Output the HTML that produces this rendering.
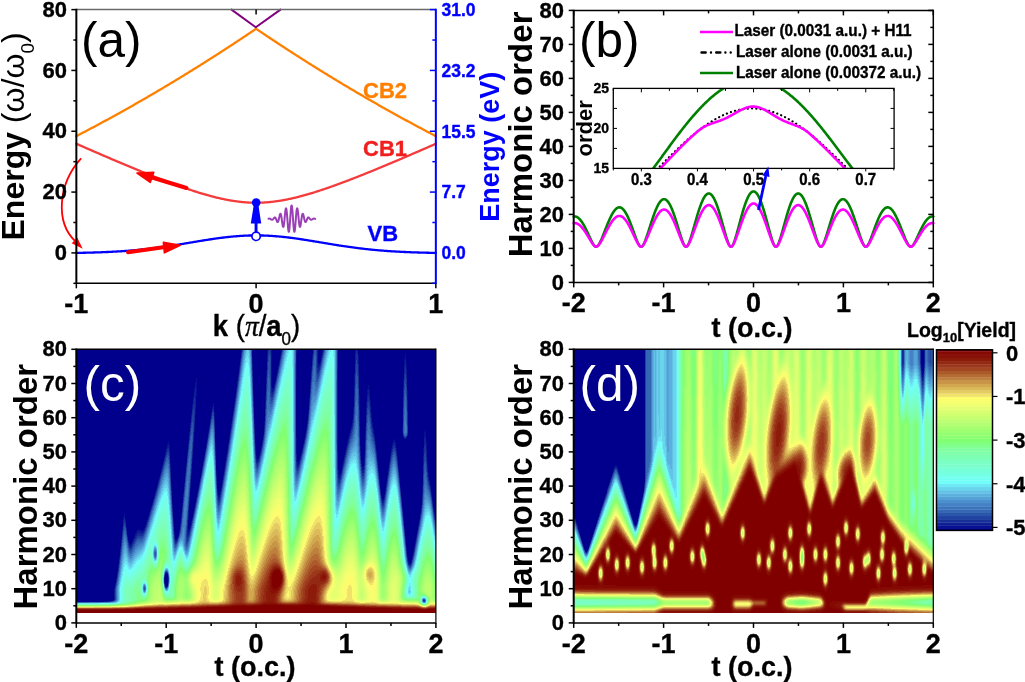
<!DOCTYPE html>
<html><head><meta charset="utf-8"><style>
html,body{margin:0;padding:0;background:#fff;}
#w{position:relative;width:1025px;height:682px;overflow:hidden;background:#fff;font-family:"Liberation Sans", sans-serif;}
canvas{position:absolute;}
svg{position:absolute;left:0;top:0;}
text{font-family:"Liberation Sans", sans-serif;}
</style></head><body><div id="w">
<canvas id="hc" width="360" height="264" data-x0="76" data-y0="349" data-tz="256.1" style="left:76px;top:349px;width:360px;height:264px;background:linear-gradient(to bottom,#00008c 0%,#00008c 35%,#3070c0 50%,#80f0b0 70%,#e8e070 85%,#a04020 94%,#800000 97%,#fff 97.5%)"></canvas>
<canvas id="hd" width="360" height="264" data-x0="574" data-y0="349" data-tz="753.5" style="left:574px;top:349px;width:360px;height:264px;background:linear-gradient(to bottom,#a0f080 0%,#d8e070 35%,#c08040 50%,#800000 60%,#800000 88%,#90f0a0 93%,#800000 96%,#fff 97.5%)"></canvas>
<svg width="1025" height="682" viewBox="0 0 1025 682"><defs></defs>
<path d="M76.35,136.13 L77.25,135.66 L78.15,135.19 L79.05,134.73 L79.95,134.26 L80.84,133.79 L81.74,133.32 L82.64,132.85 L83.54,132.38 L84.44,131.91 L85.34,131.44 L86.24,130.96 L87.14,130.49 L88.03,130.02 L88.93,129.54 L89.83,129.07 L90.73,128.59 L91.63,128.11 L92.53,127.63 L93.43,127.16 L94.33,126.68 L95.22,126.20 L96.12,125.72 L97.02,125.24 L97.92,124.75 L98.82,124.27 L99.72,123.79 L100.62,123.30 L101.52,122.82 L102.41,122.33 L103.31,121.85 L104.21,121.36 L105.11,120.87 L106.01,120.38 L106.91,119.89 L107.81,119.40 L108.71,118.91 L109.60,118.42 L110.50,117.93 L111.40,117.44 L112.30,116.94 L113.20,116.45 L114.10,115.95 L115.00,115.46 L115.90,114.96 L116.79,114.46 L117.69,113.97 L118.59,113.47 L119.49,112.97 L120.39,112.47 L121.29,111.97 L122.19,111.47 L123.09,110.97 L123.98,110.46 L124.88,109.96 L125.78,109.45 L126.68,108.95 L127.58,108.44 L128.48,107.94 L129.38,107.43 L130.28,106.92 L131.17,106.41 L132.07,105.91 L132.97,105.40 L133.87,104.88 L134.77,104.37 L135.67,103.86 L136.57,103.35 L137.47,102.83 L138.36,102.32 L139.26,101.81 L140.16,101.29 L141.06,100.77 L141.96,100.26 L142.86,99.74 L143.76,99.22 L144.66,98.70 L145.55,98.18 L146.45,97.66 L147.35,97.14 L148.25,96.62 L149.15,96.09 L150.05,95.57 L150.95,95.05 L151.85,94.52 L152.74,94.00 L153.64,93.47 L154.54,92.94 L155.44,92.41 L156.34,91.89 L157.24,91.36 L158.14,90.83 L159.04,90.30 L159.93,89.76 L160.83,89.23 L161.73,88.70 L162.63,88.17 L163.53,87.63 L164.43,87.10 L165.33,86.56 L166.23,86.03 L167.12,85.49 L168.02,84.95 L168.92,84.41 L169.82,83.87 L170.72,83.33 L171.62,82.79 L172.52,82.25 L173.42,81.71 L174.31,81.17 L175.21,80.62 L176.11,80.08 L177.01,79.53 L177.91,78.99 L178.81,78.44 L179.71,77.89 L180.61,77.35 L181.50,76.80 L182.40,76.25 L183.30,75.70 L184.20,75.15 L185.10,74.60 L186.00,74.04 L186.90,73.49 L187.80,72.94 L188.69,72.38 L189.59,71.83 L190.49,71.27 L191.39,70.72 L192.29,70.16 L193.19,69.60 L194.09,69.04 L194.99,68.48 L195.88,67.92 L196.78,67.36 L197.68,66.80 L198.58,66.24 L199.48,65.68 L200.38,65.11 L201.28,64.55 L202.18,63.98 L203.07,63.42 L203.97,62.85 L204.87,62.28 L205.77,61.72 L206.67,61.15 L207.57,60.58 L208.47,60.01 L209.37,59.44 L210.26,58.87 L211.16,58.30 L212.06,57.72 L212.96,57.15 L213.86,56.57 L214.76,56.00 L215.66,55.42 L216.56,54.85 L217.45,54.27 L218.35,53.69 L219.25,53.11 L220.15,52.53 L221.05,51.95 L221.95,51.37 L222.85,50.79 L223.75,50.21 L224.64,49.63 L225.54,49.04 L226.44,48.46 L227.34,47.87 L228.24,47.29 L229.14,46.70 L230.04,46.12 L230.94,45.53 L231.83,44.94 L232.73,44.35 L233.63,43.76 L234.53,43.17 L235.43,42.58 L236.33,41.99 L237.23,41.39 L238.13,40.80 L239.02,40.21 L239.92,39.61 L240.82,39.01 L241.72,38.42 L242.62,37.82 L243.52,37.22 L244.42,36.62 L245.32,36.03 L246.21,35.43 L247.11,34.82 L248.01,34.22 L248.91,33.62 L249.81,33.02 L250.71,32.41 L251.61,31.81 L252.51,31.21 L253.40,30.60 L254.30,29.99 L255.20,29.39 L256.10,28.78 L257.00,29.39 L257.90,29.99 L258.80,30.60 L259.70,31.21 L260.59,31.81 L261.49,32.41 L262.39,33.02 L263.29,33.62 L264.19,34.22 L265.09,34.82 L265.99,35.43 L266.89,36.03 L267.78,36.62 L268.68,37.22 L269.58,37.82 L270.48,38.42 L271.38,39.01 L272.28,39.61 L273.18,40.21 L274.08,40.80 L274.97,41.39 L275.87,41.99 L276.77,42.58 L277.67,43.17 L278.57,43.76 L279.47,44.35 L280.37,44.94 L281.27,45.53 L282.16,46.12 L283.06,46.70 L283.96,47.29 L284.86,47.87 L285.76,48.46 L286.66,49.04 L287.56,49.63 L288.46,50.21 L289.35,50.79 L290.25,51.37 L291.15,51.95 L292.05,52.53 L292.95,53.11 L293.85,53.69 L294.75,54.27 L295.65,54.85 L296.54,55.42 L297.44,56.00 L298.34,56.57 L299.24,57.15 L300.14,57.72 L301.04,58.30 L301.94,58.87 L302.84,59.44 L303.73,60.01 L304.63,60.58 L305.53,61.15 L306.43,61.72 L307.33,62.28 L308.23,62.85 L309.13,63.42 L310.03,63.98 L310.92,64.55 L311.82,65.11 L312.72,65.68 L313.62,66.24 L314.52,66.80 L315.42,67.36 L316.32,67.92 L317.22,68.48 L318.11,69.04 L319.01,69.60 L319.91,70.16 L320.81,70.72 L321.71,71.27 L322.61,71.83 L323.51,72.38 L324.41,72.94 L325.30,73.49 L326.20,74.04 L327.10,74.60 L328.00,75.15 L328.90,75.70 L329.80,76.25 L330.70,76.80 L331.60,77.35 L332.49,77.89 L333.39,78.44 L334.29,78.99 L335.19,79.53 L336.09,80.08 L336.99,80.62 L337.89,81.17 L338.79,81.71 L339.68,82.25 L340.58,82.79 L341.48,83.33 L342.38,83.87 L343.28,84.41 L344.18,84.95 L345.08,85.49 L345.98,86.03 L346.87,86.56 L347.77,87.10 L348.67,87.63 L349.57,88.17 L350.47,88.70 L351.37,89.23 L352.27,89.76 L353.17,90.30 L354.06,90.83 L354.96,91.36 L355.86,91.89 L356.76,92.41 L357.66,92.94 L358.56,93.47 L359.46,94.00 L360.36,94.52 L361.25,95.05 L362.15,95.57 L363.05,96.09 L363.95,96.62 L364.85,97.14 L365.75,97.66 L366.65,98.18 L367.55,98.70 L368.44,99.22 L369.34,99.74 L370.24,100.26 L371.14,100.77 L372.04,101.29 L372.94,101.81 L373.84,102.32 L374.74,102.83 L375.63,103.35 L376.53,103.86 L377.43,104.37 L378.33,104.88 L379.23,105.40 L380.13,105.91 L381.03,106.41 L381.93,106.92 L382.82,107.43 L383.72,107.94 L384.62,108.44 L385.52,108.95 L386.42,109.45 L387.32,109.96 L388.22,110.46 L389.12,110.97 L390.01,111.47 L390.91,111.97 L391.81,112.47 L392.71,112.97 L393.61,113.47 L394.51,113.97 L395.41,114.46 L396.31,114.96 L397.20,115.46 L398.10,115.95 L399.00,116.45 L399.90,116.94 L400.80,117.44 L401.70,117.93 L402.60,118.42 L403.50,118.91 L404.39,119.40 L405.29,119.89 L406.19,120.38 L407.09,120.87 L407.99,121.36 L408.89,121.85 L409.79,122.33 L410.69,122.82 L411.58,123.30 L412.48,123.79 L413.38,124.27 L414.28,124.75 L415.18,125.24 L416.08,125.72 L416.98,126.20 L417.88,126.68 L418.77,127.16 L419.67,127.63 L420.57,128.11 L421.47,128.59 L422.37,129.07 L423.27,129.54 L424.17,130.02 L425.07,130.49 L425.96,130.96 L426.86,131.44 L427.76,131.91 L428.66,132.38 L429.56,132.85 L430.46,133.32 L431.36,133.79 L432.25,134.26 L433.15,134.73 L434.05,135.19 L434.95,135.66 L435.85,136.13" stroke="#FF8000" stroke-width="2.3" fill="none" stroke-linejoin="round" stroke-linecap="round" />
<path d="M76.35,143.75 L77.25,144.14 L78.15,144.54 L79.05,144.93 L79.95,145.33 L80.84,145.72 L81.74,146.11 L82.64,146.51 L83.54,146.90 L84.44,147.29 L85.34,147.69 L86.24,148.08 L87.14,148.47 L88.03,148.86 L88.93,149.26 L89.83,149.65 L90.73,150.04 L91.63,150.43 L92.53,150.82 L93.43,151.21 L94.33,151.60 L95.22,151.99 L96.12,152.38 L97.02,152.77 L97.92,153.16 L98.82,153.55 L99.72,153.93 L100.62,154.32 L101.52,154.71 L102.41,155.10 L103.31,155.48 L104.21,155.87 L105.11,156.26 L106.01,156.64 L106.91,157.03 L107.81,157.41 L108.71,157.80 L109.60,158.18 L110.50,158.57 L111.40,158.95 L112.30,159.33 L113.20,159.72 L114.10,160.10 L115.00,160.48 L115.90,160.86 L116.79,161.24 L117.69,161.62 L118.59,162.00 L119.49,162.38 L120.39,162.76 L121.29,163.14 L122.19,163.52 L123.09,163.90 L123.98,164.27 L124.88,164.65 L125.78,165.03 L126.68,165.40 L127.58,165.78 L128.48,166.15 L129.38,166.53 L130.28,166.90 L131.17,167.27 L132.07,167.65 L132.97,168.02 L133.87,168.39 L134.77,168.76 L135.67,169.13 L136.57,169.50 L137.47,169.87 L138.36,170.24 L139.26,170.60 L140.16,170.97 L141.06,171.34 L141.96,171.70 L142.86,172.07 L143.76,172.43 L144.66,172.80 L145.55,173.16 L146.45,173.52 L147.35,173.88 L148.25,174.24 L149.15,174.60 L150.05,174.96 L150.95,175.32 L151.85,175.67 L152.74,176.03 L153.64,176.39 L154.54,176.74 L155.44,177.09 L156.34,177.45 L157.24,177.80 L158.14,178.15 L159.04,178.50 L159.93,178.85 L160.83,179.19 L161.73,179.54 L162.63,179.89 L163.53,180.23 L164.43,180.57 L165.33,180.92 L166.23,181.26 L167.12,181.60 L168.02,181.94 L168.92,182.27 L169.82,182.61 L170.72,182.95 L171.62,183.28 L172.52,183.61 L173.42,183.94 L174.31,184.27 L175.21,184.60 L176.11,184.93 L177.01,185.25 L177.91,185.58 L178.81,185.90 L179.71,186.22 L180.61,186.54 L181.50,186.86 L182.40,187.17 L183.30,187.49 L184.20,187.80 L185.10,188.11 L186.00,188.42 L186.90,188.73 L187.80,189.03 L188.69,189.33 L189.59,189.64 L190.49,189.94 L191.39,190.23 L192.29,190.53 L193.19,190.82 L194.09,191.11 L194.99,191.40 L195.88,191.69 L196.78,191.97 L197.68,192.26 L198.58,192.53 L199.48,192.81 L200.38,193.09 L201.28,193.36 L202.18,193.63 L203.07,193.90 L203.97,194.16 L204.87,194.42 L205.77,194.68 L206.67,194.94 L207.57,195.19 L208.47,195.44 L209.37,195.69 L210.26,195.93 L211.16,196.17 L212.06,196.41 L212.96,196.64 L213.86,196.87 L214.76,197.10 L215.66,197.32 L216.56,197.54 L217.45,197.76 L218.35,197.97 L219.25,198.18 L220.15,198.39 L221.05,198.59 L221.95,198.78 L222.85,198.98 L223.75,199.17 L224.64,199.35 L225.54,199.53 L226.44,199.71 L227.34,199.88 L228.24,200.05 L229.14,200.21 L230.04,200.37 L230.94,200.53 L231.83,200.68 L232.73,200.82 L233.63,200.96 L234.53,201.09 L235.43,201.22 L236.33,201.35 L237.23,201.47 L238.13,201.58 L239.02,201.69 L239.92,201.80 L240.82,201.90 L241.72,201.99 L242.62,202.08 L243.52,202.16 L244.42,202.24 L245.32,202.31 L246.21,202.37 L247.11,202.43 L248.01,202.49 L248.91,202.54 L249.81,202.58 L250.71,202.62 L251.61,202.65 L252.51,202.68 L253.40,202.70 L254.30,202.71 L255.20,202.72 L256.10,202.72 L257.00,202.72 L257.90,202.71 L258.80,202.70 L259.70,202.68 L260.59,202.65 L261.49,202.62 L262.39,202.58 L263.29,202.54 L264.19,202.49 L265.09,202.43 L265.99,202.37 L266.89,202.31 L267.78,202.24 L268.68,202.16 L269.58,202.08 L270.48,201.99 L271.38,201.90 L272.28,201.80 L273.18,201.69 L274.08,201.58 L274.97,201.47 L275.87,201.35 L276.77,201.22 L277.67,201.09 L278.57,200.96 L279.47,200.82 L280.37,200.68 L281.27,200.53 L282.16,200.37 L283.06,200.21 L283.96,200.05 L284.86,199.88 L285.76,199.71 L286.66,199.53 L287.56,199.35 L288.46,199.17 L289.35,198.98 L290.25,198.78 L291.15,198.59 L292.05,198.39 L292.95,198.18 L293.85,197.97 L294.75,197.76 L295.65,197.54 L296.54,197.32 L297.44,197.10 L298.34,196.87 L299.24,196.64 L300.14,196.41 L301.04,196.17 L301.94,195.93 L302.84,195.69 L303.73,195.44 L304.63,195.19 L305.53,194.94 L306.43,194.68 L307.33,194.42 L308.23,194.16 L309.13,193.90 L310.03,193.63 L310.92,193.36 L311.82,193.09 L312.72,192.81 L313.62,192.53 L314.52,192.26 L315.42,191.97 L316.32,191.69 L317.22,191.40 L318.11,191.11 L319.01,190.82 L319.91,190.53 L320.81,190.23 L321.71,189.94 L322.61,189.64 L323.51,189.33 L324.41,189.03 L325.30,188.73 L326.20,188.42 L327.10,188.11 L328.00,187.80 L328.90,187.49 L329.80,187.17 L330.70,186.86 L331.60,186.54 L332.49,186.22 L333.39,185.90 L334.29,185.58 L335.19,185.25 L336.09,184.93 L336.99,184.60 L337.89,184.27 L338.79,183.94 L339.68,183.61 L340.58,183.28 L341.48,182.95 L342.38,182.61 L343.28,182.27 L344.18,181.94 L345.08,181.60 L345.98,181.26 L346.87,180.92 L347.77,180.57 L348.67,180.23 L349.57,179.89 L350.47,179.54 L351.37,179.19 L352.27,178.85 L353.17,178.50 L354.06,178.15 L354.96,177.80 L355.86,177.45 L356.76,177.09 L357.66,176.74 L358.56,176.39 L359.46,176.03 L360.36,175.67 L361.25,175.32 L362.15,174.96 L363.05,174.60 L363.95,174.24 L364.85,173.88 L365.75,173.52 L366.65,173.16 L367.55,172.80 L368.44,172.43 L369.34,172.07 L370.24,171.70 L371.14,171.34 L372.04,170.97 L372.94,170.60 L373.84,170.24 L374.74,169.87 L375.63,169.50 L376.53,169.13 L377.43,168.76 L378.33,168.39 L379.23,168.02 L380.13,167.65 L381.03,167.27 L381.93,166.90 L382.82,166.53 L383.72,166.15 L384.62,165.78 L385.52,165.40 L386.42,165.03 L387.32,164.65 L388.22,164.27 L389.12,163.90 L390.01,163.52 L390.91,163.14 L391.81,162.76 L392.71,162.38 L393.61,162.00 L394.51,161.62 L395.41,161.24 L396.31,160.86 L397.20,160.48 L398.10,160.10 L399.00,159.72 L399.90,159.33 L400.80,158.95 L401.70,158.57 L402.60,158.18 L403.50,157.80 L404.39,157.41 L405.29,157.03 L406.19,156.64 L407.09,156.26 L407.99,155.87 L408.89,155.48 L409.79,155.10 L410.69,154.71 L411.58,154.32 L412.48,153.93 L413.38,153.55 L414.28,153.16 L415.18,152.77 L416.08,152.38 L416.98,151.99 L417.88,151.60 L418.77,151.21 L419.67,150.82 L420.57,150.43 L421.47,150.04 L422.37,149.65 L423.27,149.26 L424.17,148.86 L425.07,148.47 L425.96,148.08 L426.86,147.69 L427.76,147.29 L428.66,146.90 L429.56,146.51 L430.46,146.11 L431.36,145.72 L432.25,145.33 L433.15,144.93 L434.05,144.54 L434.95,144.14 L435.85,143.75" stroke="#F53B3B" stroke-width="2.3" fill="none" stroke-linejoin="round" stroke-linecap="round" />
<path d="M76.35,252.90 L77.25,252.89 L78.15,252.87 L79.05,252.85 L79.95,252.84 L80.84,252.82 L81.74,252.80 L82.64,252.79 L83.54,252.77 L84.44,252.75 L85.34,252.73 L86.24,252.71 L87.14,252.69 L88.03,252.66 L88.93,252.64 L89.83,252.62 L90.73,252.60 L91.63,252.57 L92.53,252.55 L93.43,252.52 L94.33,252.49 L95.22,252.46 L96.12,252.44 L97.02,252.41 L97.92,252.38 L98.82,252.35 L99.72,252.31 L100.62,252.28 L101.52,252.25 L102.41,252.21 L103.31,252.18 L104.21,252.14 L105.11,252.10 L106.01,252.06 L106.91,252.02 L107.81,251.98 L108.71,251.94 L109.60,251.90 L110.50,251.86 L111.40,251.81 L112.30,251.76 L113.20,251.72 L114.10,251.67 L115.00,251.62 L115.90,251.57 L116.79,251.52 L117.69,251.46 L118.59,251.41 L119.49,251.35 L120.39,251.30 L121.29,251.24 L122.19,251.18 L123.09,251.12 L123.98,251.05 L124.88,250.99 L125.78,250.93 L126.68,250.86 L127.58,250.79 L128.48,250.72 L129.38,250.65 L130.28,250.58 L131.17,250.51 L132.07,250.43 L132.97,250.35 L133.87,250.28 L134.77,250.20 L135.67,250.12 L136.57,250.03 L137.47,249.95 L138.36,249.86 L139.26,249.78 L140.16,249.69 L141.06,249.60 L141.96,249.51 L142.86,249.41 L143.76,249.32 L144.66,249.22 L145.55,249.13 L146.45,249.03 L147.35,248.93 L148.25,248.82 L149.15,248.72 L150.05,248.61 L150.95,248.51 L151.85,248.40 L152.74,248.29 L153.64,248.18 L154.54,248.06 L155.44,247.95 L156.34,247.83 L157.24,247.72 L158.14,247.60 L159.04,247.48 L159.93,247.36 L160.83,247.23 L161.73,247.11 L162.63,246.98 L163.53,246.86 L164.43,246.73 L165.33,246.60 L166.23,246.47 L167.12,246.34 L168.02,246.20 L168.92,246.07 L169.82,245.93 L170.72,245.80 L171.62,245.66 L172.52,245.52 L173.42,245.38 L174.31,245.24 L175.21,245.10 L176.11,244.96 L177.01,244.81 L177.91,244.67 L178.81,244.52 L179.71,244.38 L180.61,244.23 L181.50,244.09 L182.40,243.94 L183.30,243.79 L184.20,243.64 L185.10,243.49 L186.00,243.34 L186.90,243.19 L187.80,243.04 L188.69,242.89 L189.59,242.74 L190.49,242.59 L191.39,242.44 L192.29,242.29 L193.19,242.14 L194.09,241.99 L194.99,241.84 L195.88,241.69 L196.78,241.54 L197.68,241.39 L198.58,241.24 L199.48,241.10 L200.38,240.95 L201.28,240.80 L202.18,240.65 L203.07,240.51 L203.97,240.36 L204.87,240.22 L205.77,240.08 L206.67,239.93 L207.57,239.79 L208.47,239.65 L209.37,239.51 L210.26,239.38 L211.16,239.24 L212.06,239.11 L212.96,238.97 L213.86,238.84 L214.76,238.71 L215.66,238.58 L216.56,238.46 L217.45,238.33 L218.35,238.21 L219.25,238.09 L220.15,237.97 L221.05,237.85 L221.95,237.74 L222.85,237.62 L223.75,237.51 L224.64,237.40 L225.54,237.30 L226.44,237.20 L227.34,237.09 L228.24,237.00 L229.14,236.90 L230.04,236.81 L230.94,236.72 L231.83,236.63 L232.73,236.54 L233.63,236.46 L234.53,236.38 L235.43,236.30 L236.33,236.23 L237.23,236.16 L238.13,236.09 L239.02,236.03 L239.92,235.96 L240.82,235.91 L241.72,235.85 L242.62,235.80 L243.52,235.75 L244.42,235.70 L245.32,235.66 L246.21,235.62 L247.11,235.59 L248.01,235.55 L248.91,235.52 L249.81,235.50 L250.71,235.48 L251.61,235.46 L252.51,235.44 L253.40,235.43 L254.30,235.42 L255.20,235.42 L256.10,235.41 L257.00,235.42 L257.90,235.42 L258.80,235.43 L259.70,235.44 L260.59,235.46 L261.49,235.48 L262.39,235.50 L263.29,235.52 L264.19,235.55 L265.09,235.59 L265.99,235.62 L266.89,235.66 L267.78,235.70 L268.68,235.75 L269.58,235.80 L270.48,235.85 L271.38,235.91 L272.28,235.96 L273.18,236.03 L274.08,236.09 L274.97,236.16 L275.87,236.23 L276.77,236.30 L277.67,236.38 L278.57,236.46 L279.47,236.54 L280.37,236.63 L281.27,236.72 L282.16,236.81 L283.06,236.90 L283.96,237.00 L284.86,237.09 L285.76,237.20 L286.66,237.30 L287.56,237.40 L288.46,237.51 L289.35,237.62 L290.25,237.74 L291.15,237.85 L292.05,237.97 L292.95,238.09 L293.85,238.21 L294.75,238.33 L295.65,238.46 L296.54,238.58 L297.44,238.71 L298.34,238.84 L299.24,238.97 L300.14,239.11 L301.04,239.24 L301.94,239.38 L302.84,239.51 L303.73,239.65 L304.63,239.79 L305.53,239.93 L306.43,240.08 L307.33,240.22 L308.23,240.36 L309.13,240.51 L310.03,240.65 L310.92,240.80 L311.82,240.95 L312.72,241.10 L313.62,241.24 L314.52,241.39 L315.42,241.54 L316.32,241.69 L317.22,241.84 L318.11,241.99 L319.01,242.14 L319.91,242.29 L320.81,242.44 L321.71,242.59 L322.61,242.74 L323.51,242.89 L324.41,243.04 L325.30,243.19 L326.20,243.34 L327.10,243.49 L328.00,243.64 L328.90,243.79 L329.80,243.94 L330.70,244.09 L331.60,244.23 L332.49,244.38 L333.39,244.52 L334.29,244.67 L335.19,244.81 L336.09,244.96 L336.99,245.10 L337.89,245.24 L338.79,245.38 L339.68,245.52 L340.58,245.66 L341.48,245.80 L342.38,245.93 L343.28,246.07 L344.18,246.20 L345.08,246.34 L345.98,246.47 L346.87,246.60 L347.77,246.73 L348.67,246.86 L349.57,246.98 L350.47,247.11 L351.37,247.23 L352.27,247.36 L353.17,247.48 L354.06,247.60 L354.96,247.72 L355.86,247.83 L356.76,247.95 L357.66,248.06 L358.56,248.18 L359.46,248.29 L360.36,248.40 L361.25,248.51 L362.15,248.61 L363.05,248.72 L363.95,248.82 L364.85,248.93 L365.75,249.03 L366.65,249.13 L367.55,249.22 L368.44,249.32 L369.34,249.41 L370.24,249.51 L371.14,249.60 L372.04,249.69 L372.94,249.78 L373.84,249.86 L374.74,249.95 L375.63,250.03 L376.53,250.12 L377.43,250.20 L378.33,250.28 L379.23,250.35 L380.13,250.43 L381.03,250.51 L381.93,250.58 L382.82,250.65 L383.72,250.72 L384.62,250.79 L385.52,250.86 L386.42,250.93 L387.32,250.99 L388.22,251.05 L389.12,251.12 L390.01,251.18 L390.91,251.24 L391.81,251.30 L392.71,251.35 L393.61,251.41 L394.51,251.46 L395.41,251.52 L396.31,251.57 L397.20,251.62 L398.10,251.67 L399.00,251.72 L399.90,251.76 L400.80,251.81 L401.70,251.86 L402.60,251.90 L403.50,251.94 L404.39,251.98 L405.29,252.02 L406.19,252.06 L407.09,252.10 L407.99,252.14 L408.89,252.18 L409.79,252.21 L410.69,252.25 L411.58,252.28 L412.48,252.31 L413.38,252.35 L414.28,252.38 L415.18,252.41 L416.08,252.44 L416.98,252.46 L417.88,252.49 L418.77,252.52 L419.67,252.55 L420.57,252.57 L421.47,252.60 L422.37,252.62 L423.27,252.64 L424.17,252.66 L425.07,252.69 L425.96,252.71 L426.86,252.73 L427.76,252.75 L428.66,252.77 L429.56,252.79 L430.46,252.80 L431.36,252.82 L432.25,252.84 L433.15,252.85 L434.05,252.87 L434.95,252.89 L435.85,252.90" stroke="#0000FF" stroke-width="2.3" fill="none" stroke-linejoin="round" stroke-linecap="round" />
<path d="M231.50,9.62 L255.80,27.30 L280.50,9.62" stroke="#800080" stroke-width="2" fill="none" stroke-linejoin="round" stroke-linecap="round" />
<line x1="186.50" y1="188.00" x2="150.50" y2="177.00" stroke="#FF0000" stroke-width="4" stroke-linecap="round"/>
<polygon points="137,173 150.3,182.3 153.8,172.2" fill="#FF0000" stroke="#FF0000" stroke-width="1.6" stroke-linejoin="round"/>
<line x1="128.00" y1="252.20" x2="165.00" y2="247.00" stroke="#FF0000" stroke-width="4" stroke-linecap="round"/>
<polygon points="180.2,245.3 164.4,252.8 163.4,242.3" fill="#FF0000" stroke="#FF0000" stroke-width="1.6" stroke-linejoin="round"/>
<path d="M81.1,158.4 C58,184 55,222 75.5,241.5" stroke="#FF0000" stroke-width="1.8" fill="none"/>
<polygon points="82.7,248.7 71.67,243.33 77.33,237.67" fill="#FF0000"/>
<rect x="254.6" y="222" width="2.9" height="11" fill="#0000FF"/>
<polygon points="253.6,206 258.6,206 261.2,223.5 250.8,223.5" fill="#0000FF"/>
<circle cx="256.2" cy="202.6" r="4.3" fill="#0000FF"/>
<circle cx="256.1" cy="236.3" r="4.2" fill="#fff" stroke="#0000FF" stroke-width="1.7"/>
<path d="M268.50,218.70 L268.69,218.64 L268.89,218.61 L269.08,218.59 L269.28,218.59 L269.47,218.61 L269.67,218.65 L269.86,218.72 L270.06,218.80 L270.25,218.90 L270.45,219.02 L270.64,219.14 L270.83,219.27 L271.03,219.39 L271.22,219.50 L271.42,219.59 L271.61,219.66 L271.81,219.70 L272.00,219.73 L272.20,219.72 L272.39,219.67 L272.59,219.59 L272.78,219.45 L272.98,219.28 L273.17,219.08 L273.36,218.85 L273.56,218.59 L273.75,218.34 L273.95,218.08 L274.14,217.85 L274.34,217.66 L274.53,217.51 L274.73,217.43 L274.92,217.42 L275.12,217.49 L275.31,217.64 L275.50,217.89 L275.70,218.21 L275.89,218.61 L276.09,219.06 L276.28,219.56 L276.48,220.08 L276.67,220.58 L276.87,221.06 L277.06,221.47 L277.26,221.79 L277.45,221.99 L277.65,222.06 L277.84,221.99 L278.03,221.75 L278.23,221.35 L278.42,220.80 L278.62,220.12 L278.81,219.33 L279.01,218.45 L279.20,217.54 L279.40,216.63 L279.59,215.78 L279.79,215.02 L279.98,214.41 L280.18,213.98 L280.37,213.78 L280.56,213.82 L280.76,214.12 L280.95,214.69 L281.15,215.50 L281.34,216.55 L281.54,217.77 L281.73,219.14 L281.93,220.58 L282.12,222.02 L282.32,223.40 L282.51,224.64 L282.70,225.67 L282.90,226.43 L283.09,226.86 L283.29,226.93 L283.48,226.62 L283.68,225.91 L283.87,224.84 L284.07,223.43 L284.26,221.74 L284.46,219.84 L284.65,217.82 L284.84,215.77 L285.04,213.80 L285.23,212.00 L285.43,210.47 L285.62,209.30 L285.82,208.55 L286.01,208.29 L286.21,208.53 L286.40,209.28 L286.60,210.53 L286.79,212.22 L286.99,214.29 L287.18,216.64 L287.37,219.16 L287.57,221.74 L287.76,224.25 L287.96,226.57 L288.15,228.57 L288.35,230.16 L288.54,231.25 L288.74,231.77 L288.93,231.69 L289.13,231.01 L289.32,229.74 L289.51,227.95 L289.71,225.71 L289.90,223.12 L290.10,220.32 L290.29,217.42 L290.49,214.58 L290.68,211.93 L290.88,209.60 L291.07,207.70 L291.27,206.34 L291.46,205.56 L291.66,205.43 L291.85,205.93 L292.04,207.05 L292.24,208.73 L292.43,210.88 L292.63,213.41 L292.82,216.19 L293.02,219.07 L293.21,221.94 L293.41,224.63 L293.60,227.03 L293.80,229.03 L293.99,230.53 L294.19,231.47 L294.38,231.81 L294.57,231.55 L294.77,230.70 L294.96,229.31 L295.16,227.48 L295.35,225.28 L295.55,222.84 L295.74,220.27 L295.94,217.71 L296.13,215.27 L296.33,213.07 L296.52,211.21 L296.71,209.76 L296.91,208.79 L297.10,208.33 L297.30,208.38 L297.49,208.92 L297.69,209.92 L297.88,211.30 L298.08,212.99 L298.27,214.91 L298.47,216.93 L298.66,218.98 L298.86,220.94 L299.05,222.73 L299.24,224.27 L299.44,225.49 L299.63,226.36 L299.83,226.85 L300.02,226.94 L300.22,226.66 L300.41,226.04 L300.61,225.12 L300.80,223.96 L301.00,222.63 L301.19,221.20 L301.38,219.75 L301.58,218.35 L301.77,217.05 L301.97,215.93 L302.16,215.01 L302.36,214.33 L302.55,213.91 L302.75,213.76 L302.94,213.86 L303.14,214.20 L303.33,214.74 L303.52,215.44 L303.72,216.26 L303.91,217.15 L304.11,218.06 L304.30,218.96 L304.50,219.79 L304.69,220.53 L304.89,221.13 L305.08,221.60 L305.28,221.90 L305.47,222.05 L305.67,222.04 L305.86,221.89 L306.05,221.62 L306.25,221.24 L306.44,220.79 L306.64,220.30 L306.83,219.78 L307.03,219.27 L307.22,218.80 L307.42,218.37 L307.61,218.02 L307.81,217.74 L308.00,217.54 L308.19,217.44 L308.39,217.41 L308.58,217.47 L308.78,217.59 L308.97,217.76 L309.17,217.98 L309.36,218.23 L309.56,218.48 L309.75,218.74 L309.95,218.98 L310.14,219.20 L310.34,219.39 L310.53,219.53 L310.72,219.64 L310.92,219.71 L311.11,219.73 L311.31,219.72 L311.50,219.68 L311.70,219.62 L311.89,219.54 L312.09,219.44 L312.28,219.32 L312.48,219.20 L312.67,219.07 L312.87,218.95 L313.06,218.84 L313.25,218.75 L313.45,218.68 L313.64,218.62 L313.84,218.59 L314.03,218.59 L314.23,218.60 L314.42,218.63 L314.62,218.67 L314.81,218.73 L315.01,218.79 L315.20,218.86" stroke="#9A3FB5" stroke-width="2" fill="none" stroke-linejoin="round" stroke-linecap="round" />
<line x1="76.35" y1="9.62" x2="435.85" y2="9.62" stroke="#6a6a6a" stroke-width="1.5" />
<line x1="76.35" y1="8.87" x2="76.35" y2="284.06" stroke="#000" stroke-width="2" />
<line x1="76.35" y1="283.31" x2="435.85" y2="283.31" stroke="#000" stroke-width="1.5" />
<line x1="435.85" y1="8.87" x2="435.85" y2="284.06" stroke="#0000FF" stroke-width="2" />
<line x1="73.35" y1="283.31" x2="76.35" y2="283.31" stroke="#000" stroke-width="1.5" />
<line x1="435.85" y1="283.31" x2="432.35" y2="283.31" stroke="#0000FF" stroke-width="1.5" />
<line x1="71.35" y1="252.90" x2="76.35" y2="252.90" stroke="#000" stroke-width="1.5" />
<line x1="435.85" y1="252.90" x2="429.85" y2="252.90" stroke="#0000FF" stroke-width="1.5" />
<line x1="73.35" y1="222.49" x2="76.35" y2="222.49" stroke="#000" stroke-width="1.5" />
<line x1="435.85" y1="222.49" x2="432.35" y2="222.49" stroke="#0000FF" stroke-width="1.5" />
<line x1="71.35" y1="192.08" x2="76.35" y2="192.08" stroke="#000" stroke-width="1.5" />
<line x1="435.85" y1="192.08" x2="429.85" y2="192.08" stroke="#0000FF" stroke-width="1.5" />
<line x1="73.35" y1="161.67" x2="76.35" y2="161.67" stroke="#000" stroke-width="1.5" />
<line x1="435.85" y1="161.67" x2="432.35" y2="161.67" stroke="#0000FF" stroke-width="1.5" />
<line x1="71.35" y1="131.26" x2="76.35" y2="131.26" stroke="#000" stroke-width="1.5" />
<line x1="435.85" y1="131.26" x2="429.85" y2="131.26" stroke="#0000FF" stroke-width="1.5" />
<line x1="73.35" y1="100.85" x2="76.35" y2="100.85" stroke="#000" stroke-width="1.5" />
<line x1="435.85" y1="100.85" x2="432.35" y2="100.85" stroke="#0000FF" stroke-width="1.5" />
<line x1="71.35" y1="70.44" x2="76.35" y2="70.44" stroke="#000" stroke-width="1.5" />
<line x1="435.85" y1="70.44" x2="429.85" y2="70.44" stroke="#0000FF" stroke-width="1.5" />
<line x1="73.35" y1="40.03" x2="76.35" y2="40.03" stroke="#000" stroke-width="1.5" />
<line x1="435.85" y1="40.03" x2="432.35" y2="40.03" stroke="#0000FF" stroke-width="1.5" />
<line x1="71.35" y1="9.62" x2="76.35" y2="9.62" stroke="#000" stroke-width="1.5" />
<line x1="435.85" y1="9.62" x2="429.85" y2="9.62" stroke="#0000FF" stroke-width="1.5" />
<text x="0" y="0" transform="translate(67.00,260.08) scale(1,1.045)" font-size="22" fill="#000" stroke="#000" stroke-width="0.35" text-anchor="end" font-weight="bold" >0</text>
<text x="0" y="0" transform="translate(67.00,199.26) scale(1,1.045)" font-size="22" fill="#000" stroke="#000" stroke-width="0.35" text-anchor="end" font-weight="bold" >20</text>
<text x="0" y="0" transform="translate(67.00,138.44) scale(1,1.045)" font-size="22" fill="#000" stroke="#000" stroke-width="0.35" text-anchor="end" font-weight="bold" >40</text>
<text x="0" y="0" transform="translate(67.00,77.62) scale(1,1.045)" font-size="22" fill="#000" stroke="#000" stroke-width="0.35" text-anchor="end" font-weight="bold" >60</text>
<text x="0" y="0" transform="translate(67.00,16.80) scale(1,1.045)" font-size="22" fill="#000" stroke="#000" stroke-width="0.35" text-anchor="end" font-weight="bold" >80</text>
<text x="0" y="0" transform="translate(441.50,259.17) scale(1,1.045)" font-size="17.5" fill="#0000FF" stroke="#0000FF" stroke-width="0.35" text-anchor="start" font-weight="bold" >0.0</text>
<text x="0" y="0" transform="translate(441.50,198.34) scale(1,1.045)" font-size="17.5" fill="#0000FF" stroke="#0000FF" stroke-width="0.35" text-anchor="start" font-weight="bold" >7.7</text>
<text x="0" y="0" transform="translate(441.50,137.52) scale(1,1.045)" font-size="17.5" fill="#0000FF" stroke="#0000FF" stroke-width="0.35" text-anchor="start" font-weight="bold" >15.5</text>
<text x="0" y="0" transform="translate(441.50,76.70) scale(1,1.045)" font-size="17.5" fill="#0000FF" stroke="#0000FF" stroke-width="0.35" text-anchor="start" font-weight="bold" >23.2</text>
<text x="0" y="0" transform="translate(441.50,15.89) scale(1,1.045)" font-size="17.5" fill="#0000FF" stroke="#0000FF" stroke-width="0.35" text-anchor="start" font-weight="bold" >31.0</text>
<line x1="76.35" y1="283.31" x2="76.35" y2="288.31" stroke="#000" stroke-width="1.5" />
<text x="0" y="0" transform="translate(76.35,313.31) scale(1,1.045)" font-size="27" fill="#000" stroke="#000" stroke-width="0.35" text-anchor="middle" font-weight="bold" >-1</text>
<line x1="256.10" y1="283.31" x2="256.10" y2="288.31" stroke="#000" stroke-width="1.5" />
<text x="0" y="0" transform="translate(256.10,313.31) scale(1,1.045)" font-size="27" fill="#000" stroke="#000" stroke-width="0.35" text-anchor="middle" font-weight="bold" >0</text>
<line x1="435.85" y1="283.31" x2="435.85" y2="288.31" stroke="#000" stroke-width="1.5" />
<text x="0" y="0" transform="translate(435.85,313.31) scale(1,1.045)" font-size="27" fill="#000" stroke="#000" stroke-width="0.35" text-anchor="middle" font-weight="bold" >1</text>
<line x1="256.10" y1="9.62" x2="256.10" y2="14.62" stroke="#000" stroke-width="1.5" />
<text x="0" y="0" transform="translate(256.50,336.30) scale(1,1.045)" font-size="27.5" fill="#000" stroke="#000" stroke-width="0.35" text-anchor="middle" font-weight="bold" >k <tspan font-weight="normal">(</tspan><tspan font-weight="normal" font-family="Liberation Serif" font-style="italic">&#960;</tspan><tspan font-weight="normal">/</tspan>a<tspan font-size="17" font-weight="normal" dy="8">0</tspan><tspan font-weight="normal" dy="-8">)</tspan></text>
<text x="0.00" y="0.00" font-size="32" fill="#000" text-anchor="start" font-weight="bold" transform="translate(24.4,240.5) rotate(-90)">Energy <tspan font-weight="normal">(</tspan><tspan font-weight="normal">&#969;</tspan><tspan font-weight="normal">/</tspan><tspan font-weight="normal">&#969;</tspan><tspan font-size="19" font-weight="normal" dy="10">0</tspan><tspan font-weight="normal" dy="-10">)</tspan></text>
<text x="0.00" y="0.00" font-size="27" fill="#0000FF" text-anchor="middle" font-weight="bold" transform="translate(499,146.8) rotate(-90)">Energy (eV)</text>
<text x="81.00" y="57.00" font-size="49.5" fill="#000" text-anchor="start" font-weight="normal" >(a)</text>
<text x="0" y="0" transform="translate(363.00,97.50) scale(1,1.045)" font-size="22" fill="#FF8000" stroke="#FF8000" stroke-width="0.35" text-anchor="start" font-weight="bold" >CB2</text>
<text x="0" y="0" transform="translate(363.00,156.00) scale(1,1.045)" font-size="22" fill="#F01E1E" stroke="#F01E1E" stroke-width="0.35" text-anchor="start" font-weight="bold" >CB1</text>
<text x="0" y="0" transform="translate(367.50,241.00) scale(1,1.045)" font-size="22" fill="#0000FF" stroke="#0000FF" stroke-width="0.35" text-anchor="start" font-weight="bold" >VB</text>
<path d="M573.70,216.56 L573.92,216.52 L574.15,216.49 L574.37,216.47 L574.60,216.46 L574.82,216.47 L575.05,216.48 L575.27,216.51 L575.50,216.54 L575.72,216.59 L575.95,216.64 L576.17,216.71 L576.40,216.79 L576.62,216.88 L576.85,216.98 L577.07,217.09 L577.30,217.22 L577.52,217.35 L577.75,217.49 L577.97,217.65 L578.19,217.81 L578.42,217.99 L578.64,218.17 L578.87,218.37 L579.09,218.58 L579.32,218.79 L579.54,219.02 L579.77,219.26 L579.99,219.50 L580.22,219.76 L580.44,220.03 L580.67,220.31 L580.89,220.59 L581.12,220.89 L581.34,221.19 L581.57,221.50 L581.79,221.83 L582.02,222.16 L582.24,222.50 L582.47,222.85 L582.69,223.20 L582.91,223.57 L583.14,223.94 L583.36,224.32 L583.59,224.71 L583.81,225.10 L584.04,225.51 L584.26,225.92 L584.49,226.33 L584.71,226.75 L584.94,227.18 L585.16,227.62 L585.39,228.05 L585.61,228.50 L585.84,228.95 L586.06,229.41 L586.29,229.86 L586.51,230.33 L586.74,230.80 L586.96,231.27 L587.18,231.74 L587.41,232.22 L587.63,232.70 L587.86,233.18 L588.08,233.66 L588.31,234.15 L588.53,234.64 L588.76,235.12 L588.98,235.61 L589.21,236.09 L589.43,236.58 L589.66,237.06 L589.88,237.55 L590.11,238.03 L590.33,238.50 L590.56,238.98 L590.78,239.45 L591.01,239.91 L591.23,240.37 L591.46,240.82 L591.68,241.26 L591.90,241.70 L592.13,242.13 L592.35,242.54 L592.58,242.95 L592.80,243.34 L593.03,243.72 L593.25,244.09 L593.48,244.44 L593.70,244.77 L593.93,245.08 L594.15,245.36 L594.38,245.63 L594.60,245.87 L594.83,246.08 L595.05,246.27 L595.28,246.42 L595.50,246.54 L595.73,246.63 L595.95,246.68 L596.17,246.70 L596.40,246.68 L596.62,246.63 L596.85,246.54 L597.07,246.42 L597.30,246.26 L597.52,246.07 L597.75,245.85 L597.97,245.61 L598.20,245.33 L598.42,245.03 L598.65,244.71 L598.87,244.36 L599.10,244.00 L599.32,243.61 L599.55,243.21 L599.77,242.79 L600.00,242.35 L600.22,241.90 L600.45,241.44 L600.67,240.97 L600.89,240.48 L601.12,239.99 L601.34,239.48 L601.57,238.97 L601.79,238.45 L602.02,237.92 L602.24,237.38 L602.47,236.84 L602.69,236.29 L602.92,235.74 L603.14,235.19 L603.37,234.63 L603.59,234.06 L603.82,233.50 L604.04,232.93 L604.27,232.36 L604.49,231.79 L604.72,231.21 L604.94,230.64 L605.16,230.07 L605.39,229.49 L605.61,228.92 L605.84,228.35 L606.06,227.78 L606.29,227.21 L606.51,226.65 L606.74,226.08 L606.96,225.52 L607.19,224.97 L607.41,224.41 L607.64,223.86 L607.86,223.32 L608.09,222.78 L608.31,222.24 L608.54,221.71 L608.76,221.19 L608.99,220.67 L609.21,220.16 L609.44,219.65 L609.66,219.15 L609.88,218.66 L610.11,218.17 L610.33,217.70 L610.56,217.23 L610.78,216.77 L611.01,216.31 L611.23,215.87 L611.46,215.43 L611.68,215.01 L611.91,214.59 L612.13,214.18 L612.36,213.78 L612.58,213.40 L612.81,213.02 L613.03,212.65 L613.26,212.30 L613.48,211.95 L613.71,211.62 L613.93,211.30 L614.15,210.99 L614.38,210.69 L614.60,210.40 L614.83,210.12 L615.05,209.86 L615.28,209.61 L615.50,209.37 L615.73,209.14 L615.95,208.93 L616.18,208.73 L616.40,208.54 L616.63,208.37 L616.85,208.21 L617.08,208.06 L617.30,207.93 L617.53,207.81 L617.75,207.70 L617.98,207.61 L618.20,207.53 L618.43,207.46 L618.65,207.41 L618.87,207.37 L619.10,207.35 L619.32,207.34 L619.55,207.34 L619.77,207.36 L620.00,207.40 L620.22,207.44 L620.45,207.50 L620.67,207.58 L620.90,207.67 L621.12,207.77 L621.35,207.89 L621.57,208.02 L621.80,208.16 L622.02,208.32 L622.25,208.50 L622.47,208.68 L622.70,208.88 L622.92,209.10 L623.14,209.32 L623.37,209.57 L623.59,209.82 L623.82,210.09 L624.04,210.37 L624.27,210.66 L624.49,210.97 L624.72,211.29 L624.94,211.62 L625.17,211.97 L625.39,212.32 L625.62,212.69 L625.84,213.07 L626.07,213.47 L626.29,213.87 L626.52,214.29 L626.74,214.71 L626.97,215.15 L627.19,215.60 L627.42,216.06 L627.64,216.53 L627.86,217.01 L628.09,217.50 L628.31,218.00 L628.54,218.51 L628.76,219.02 L628.99,219.55 L629.21,220.08 L629.44,220.62 L629.66,221.17 L629.89,221.73 L630.11,222.30 L630.34,222.87 L630.56,223.45 L630.79,224.03 L631.01,224.62 L631.24,225.21 L631.46,225.81 L631.69,226.42 L631.91,227.03 L632.13,227.64 L632.36,228.25 L632.58,228.87 L632.81,229.49 L633.03,230.11 L633.26,230.74 L633.48,231.36 L633.71,231.98 L633.93,232.61 L634.16,233.23 L634.38,233.85 L634.61,234.47 L634.83,235.09 L635.06,235.70 L635.28,236.31 L635.51,236.91 L635.73,237.51 L635.96,238.10 L636.18,238.69 L636.41,239.26 L636.63,239.83 L636.85,240.38 L637.08,240.92 L637.30,241.45 L637.53,241.96 L637.75,242.46 L637.98,242.94 L638.20,243.40 L638.43,243.84 L638.65,244.26 L638.88,244.65 L639.10,245.02 L639.33,245.35 L639.55,245.65 L639.78,245.92 L640.00,246.15 L640.23,246.35 L640.45,246.50 L640.68,246.61 L640.90,246.68 L641.12,246.70 L641.35,246.68 L641.57,246.61 L641.80,246.50 L642.02,246.35 L642.25,246.15 L642.47,245.91 L642.70,245.64 L642.92,245.33 L643.15,244.99 L643.37,244.61 L643.60,244.21 L643.82,243.78 L644.05,243.32 L644.27,242.84 L644.50,242.34 L644.72,241.82 L644.95,241.28 L645.17,240.72 L645.40,240.15 L645.62,239.56 L645.84,238.96 L646.07,238.34 L646.29,237.72 L646.52,237.08 L646.74,236.44 L646.97,235.79 L647.19,235.12 L647.42,234.46 L647.64,233.78 L647.87,233.10 L648.09,232.42 L648.32,231.73 L648.54,231.04 L648.77,230.34 L648.99,229.64 L649.22,228.94 L649.44,228.24 L649.67,227.54 L649.89,226.84 L650.12,226.14 L650.34,225.44 L650.56,224.74 L650.79,224.04 L651.01,223.35 L651.24,222.65 L651.46,221.97 L651.69,221.28 L651.91,220.60 L652.14,219.92 L652.36,219.25 L652.59,218.59 L652.81,217.93 L653.04,217.27 L653.26,216.62 L653.49,215.98 L653.71,215.35 L653.94,214.73 L654.16,214.11 L654.39,213.50 L654.61,212.90 L654.83,212.31 L655.06,211.73 L655.28,211.15 L655.51,210.59 L655.73,210.04 L655.96,209.50 L656.18,208.97 L656.41,208.45 L656.63,207.94 L656.86,207.45 L657.08,206.97 L657.31,206.50 L657.53,206.04 L657.76,205.59 L657.98,205.16 L658.21,204.74 L658.43,204.34 L658.66,203.95 L658.88,203.57 L659.11,203.21 L659.33,202.86 L659.55,202.53 L659.78,202.21 L660.00,201.91 L660.23,201.62 L660.45,201.35 L660.68,201.09 L660.90,200.85 L661.13,200.62 L661.35,200.41 L661.58,200.22 L661.80,200.04 L662.03,199.88 L662.25,199.74 L662.48,199.61 L662.70,199.50 L662.93,199.40 L663.15,199.32 L663.38,199.26 L663.60,199.22 L663.82,199.19 L664.05,199.18 L664.27,199.19 L664.50,199.21 L664.72,199.25 L664.95,199.31 L665.17,199.38 L665.40,199.47 L665.62,199.58 L665.85,199.71 L666.07,199.85 L666.30,200.01 L666.52,200.18 L666.75,200.37 L666.97,200.58 L667.20,200.81 L667.42,201.05 L667.65,201.31 L667.87,201.58 L668.10,201.87 L668.32,202.18 L668.54,202.50 L668.77,202.84 L668.99,203.19 L669.22,203.56 L669.44,203.94 L669.67,204.34 L669.89,204.75 L670.12,205.18 L670.34,205.62 L670.57,206.08 L670.79,206.55 L671.02,207.04 L671.24,207.53 L671.47,208.04 L671.69,208.57 L671.92,209.10 L672.14,209.65 L672.37,210.21 L672.59,210.79 L672.81,211.37 L673.04,211.97 L673.26,212.57 L673.49,213.19 L673.71,213.82 L673.94,214.45 L674.16,215.10 L674.39,215.76 L674.61,216.42 L674.84,217.09 L675.06,217.77 L675.29,218.46 L675.51,219.16 L675.74,219.86 L675.96,220.56 L676.19,221.28 L676.41,222.00 L676.64,222.72 L676.86,223.45 L677.09,224.18 L677.31,224.92 L677.53,225.65 L677.76,226.39 L677.98,227.13 L678.21,227.88 L678.43,228.62 L678.66,229.36 L678.88,230.10 L679.11,230.84 L679.33,231.58 L679.56,232.31 L679.78,233.05 L680.01,233.77 L680.23,234.49 L680.46,235.20 L680.68,235.91 L680.91,236.61 L681.13,237.30 L681.36,237.97 L681.58,238.64 L681.80,239.29 L682.03,239.93 L682.25,240.55 L682.48,241.16 L682.70,241.74 L682.93,242.31 L683.15,242.85 L683.38,243.36 L683.60,243.85 L683.83,244.31 L684.05,244.73 L684.28,245.13 L684.50,245.48 L684.73,245.79 L684.95,246.06 L685.18,246.29 L685.40,246.47 L685.63,246.60 L685.85,246.67 L686.08,246.70 L686.30,246.67 L686.52,246.60 L686.75,246.47 L686.97,246.29 L687.20,246.06 L687.42,245.79 L687.65,245.47 L687.87,245.11 L688.10,244.71 L688.32,244.28 L688.55,243.81 L688.77,243.32 L689.00,242.79 L689.22,242.24 L689.45,241.66 L689.67,241.05 L689.90,240.43 L690.12,239.79 L690.35,239.13 L690.57,238.45 L690.79,237.76 L691.02,237.06 L691.24,236.34 L691.47,235.61 L691.69,234.87 L691.92,234.12 L692.14,233.37 L692.37,232.60 L692.59,231.83 L692.82,231.06 L693.04,230.27 L693.27,229.49 L693.49,228.70 L693.72,227.91 L693.94,227.11 L694.17,226.32 L694.39,225.52 L694.62,224.72 L694.84,223.93 L695.07,223.13 L695.29,222.34 L695.51,221.55 L695.74,220.76 L695.96,219.97 L696.19,219.19 L696.41,218.42 L696.64,217.64 L696.86,216.88 L697.09,216.12 L697.31,215.36 L697.54,214.61 L697.76,213.87 L697.99,213.14 L698.21,212.41 L698.44,211.70 L698.66,210.99 L698.89,210.29 L699.11,209.60 L699.34,208.92 L699.56,208.25 L699.78,207.60 L700.01,206.95 L700.23,206.31 L700.46,205.69 L700.68,205.08 L700.91,204.48 L701.13,203.90 L701.36,203.33 L701.58,202.77 L701.81,202.22 L702.03,201.69 L702.26,201.18 L702.48,200.68 L702.71,200.19 L702.93,199.72 L703.16,199.27 L703.38,198.83 L703.61,198.40 L703.83,198.00 L704.05,197.61 L704.28,197.23 L704.50,196.87 L704.73,196.53 L704.95,196.21 L705.18,195.91 L705.40,195.62 L705.63,195.35 L705.85,195.10 L706.08,194.86 L706.30,194.65 L706.53,194.45 L706.75,194.27 L706.98,194.11 L707.20,193.96 L707.43,193.84 L707.65,193.74 L707.88,193.65 L708.10,193.58 L708.33,193.53 L708.55,193.50 L708.77,193.49 L709.00,193.50 L709.22,193.53 L709.45,193.57 L709.67,193.64 L709.90,193.72 L710.12,193.83 L710.35,193.95 L710.57,194.09 L710.80,194.25 L711.02,194.43 L711.25,194.62 L711.47,194.84 L711.70,195.07 L711.92,195.33 L712.15,195.60 L712.37,195.88 L712.60,196.19 L712.82,196.51 L713.04,196.86 L713.27,197.21 L713.49,197.59 L713.72,197.98 L713.94,198.40 L714.17,198.82 L714.39,199.27 L714.62,199.73 L714.84,200.20 L715.07,200.69 L715.29,201.20 L715.52,201.72 L715.74,202.26 L715.97,202.81 L716.19,203.38 L716.42,203.96 L716.64,204.56 L716.87,205.17 L717.09,205.79 L717.32,206.42 L717.54,207.07 L717.76,207.73 L717.99,208.40 L718.21,209.08 L718.44,209.78 L718.66,210.48 L718.89,211.20 L719.11,211.92 L719.34,212.66 L719.56,213.40 L719.79,214.15 L720.01,214.91 L720.24,215.68 L720.46,216.45 L720.69,217.24 L720.91,218.02 L721.14,218.82 L721.36,219.62 L721.59,220.42 L721.81,221.23 L722.03,222.04 L722.26,222.85 L722.48,223.67 L722.71,224.49 L722.93,225.30 L723.16,226.12 L723.38,226.94 L723.61,227.76 L723.83,228.58 L724.06,229.39 L724.28,230.20 L724.51,231.01 L724.73,231.81 L724.96,232.61 L725.18,233.40 L725.41,234.18 L725.63,234.96 L725.86,235.72 L726.08,236.47 L726.31,237.21 L726.53,237.94 L726.75,238.65 L726.98,239.35 L727.20,240.03 L727.43,240.68 L727.65,241.32 L727.88,241.93 L728.10,242.52 L728.33,243.08 L728.55,243.61 L728.78,244.11 L729.00,244.57 L729.23,245.00 L729.45,245.38 L729.68,245.72 L729.90,246.01 L730.13,246.26 L730.35,246.45 L730.58,246.59 L730.80,246.67 L731.02,246.70 L731.25,246.67 L731.47,246.59 L731.70,246.45 L731.92,246.26 L732.15,246.01 L732.37,245.72 L732.60,245.38 L732.82,244.99 L733.05,244.57 L733.27,244.10 L733.50,243.60 L733.72,243.07 L733.95,242.50 L734.17,241.91 L734.40,241.29 L734.62,240.65 L734.85,239.98 L735.07,239.30 L735.30,238.59 L735.52,237.87 L735.74,237.14 L735.97,236.39 L736.19,235.62 L736.42,234.85 L736.64,234.06 L736.87,233.27 L737.09,232.46 L737.32,231.65 L737.54,230.84 L737.77,230.02 L737.99,229.19 L738.22,228.36 L738.44,227.52 L738.67,226.69 L738.89,225.85 L739.12,225.01 L739.34,224.17 L739.57,223.33 L739.79,222.50 L740.01,221.66 L740.24,220.83 L740.46,220.00 L740.69,219.17 L740.91,218.35 L741.14,217.53 L741.36,216.72 L741.59,215.91 L741.81,215.11 L742.04,214.32 L742.26,213.53 L742.49,212.75 L742.71,211.98 L742.94,211.22 L743.16,210.46 L743.39,209.72 L743.61,208.99 L743.84,208.26 L744.06,207.55 L744.29,206.85 L744.51,206.16 L744.73,205.48 L744.96,204.82 L745.18,204.16 L745.41,203.52 L745.63,202.90 L745.86,202.28 L746.08,201.69 L746.31,201.10 L746.53,200.53 L746.76,199.98 L746.98,199.44 L747.21,198.92 L747.43,198.41 L747.66,197.92 L747.88,197.44 L748.11,196.98 L748.33,196.54 L748.56,196.12 L748.78,195.71 L749.00,195.32 L749.23,194.95 L749.45,194.60 L749.68,194.26 L749.90,193.94 L750.13,193.64 L750.35,193.36 L750.58,193.10 L750.80,192.86 L751.03,192.64 L751.25,192.43 L751.48,192.24 L751.70,192.08 L751.93,191.93 L752.15,191.80 L752.38,191.70 L752.60,191.61 L752.83,191.54 L753.05,191.49 L753.28,191.46 L753.50,191.45 L753.72,191.46 L753.95,191.49 L754.17,191.54 L754.40,191.61 L754.62,191.70 L754.85,191.80 L755.07,191.93 L755.30,192.08 L755.52,192.24 L755.75,192.43 L755.97,192.64 L756.20,192.86 L756.42,193.10 L756.65,193.36 L756.87,193.64 L757.10,193.94 L757.32,194.26 L757.55,194.60 L757.77,194.95 L758.00,195.32 L758.22,195.71 L758.44,196.12 L758.67,196.54 L758.89,196.98 L759.12,197.44 L759.34,197.92 L759.57,198.41 L759.79,198.92 L760.02,199.44 L760.24,199.98 L760.47,200.53 L760.69,201.10 L760.92,201.69 L761.14,202.28 L761.37,202.90 L761.59,203.52 L761.82,204.16 L762.04,204.82 L762.27,205.48 L762.49,206.16 L762.71,206.85 L762.94,207.55 L763.16,208.26 L763.39,208.99 L763.61,209.72 L763.84,210.46 L764.06,211.22 L764.29,211.98 L764.51,212.75 L764.74,213.53 L764.96,214.32 L765.19,215.11 L765.41,215.91 L765.64,216.72 L765.86,217.53 L766.09,218.35 L766.31,219.17 L766.54,220.00 L766.76,220.83 L766.99,221.66 L767.21,222.50 L767.43,223.33 L767.66,224.17 L767.88,225.01 L768.11,225.85 L768.33,226.69 L768.56,227.52 L768.78,228.36 L769.01,229.19 L769.23,230.02 L769.46,230.84 L769.68,231.65 L769.91,232.46 L770.13,233.27 L770.36,234.06 L770.58,234.85 L770.81,235.62 L771.03,236.39 L771.26,237.14 L771.48,237.87 L771.70,238.59 L771.93,239.30 L772.15,239.98 L772.38,240.65 L772.60,241.29 L772.83,241.91 L773.05,242.50 L773.28,243.07 L773.50,243.60 L773.73,244.10 L773.95,244.57 L774.18,244.99 L774.40,245.38 L774.63,245.72 L774.85,246.01 L775.08,246.26 L775.30,246.45 L775.53,246.59 L775.75,246.67 L775.98,246.70 L776.20,246.67 L776.42,246.59 L776.65,246.45 L776.87,246.26 L777.10,246.01 L777.32,245.72 L777.55,245.38 L777.77,245.00 L778.00,244.57 L778.22,244.11 L778.45,243.61 L778.67,243.08 L778.90,242.52 L779.12,241.93 L779.35,241.32 L779.57,240.68 L779.80,240.03 L780.02,239.35 L780.25,238.65 L780.47,237.94 L780.69,237.21 L780.92,236.47 L781.14,235.72 L781.37,234.96 L781.59,234.18 L781.82,233.40 L782.04,232.61 L782.27,231.81 L782.49,231.01 L782.72,230.20 L782.94,229.39 L783.17,228.58 L783.39,227.76 L783.62,226.94 L783.84,226.12 L784.07,225.30 L784.29,224.49 L784.52,223.67 L784.74,222.85 L784.97,222.04 L785.19,221.23 L785.41,220.42 L785.64,219.62 L785.86,218.82 L786.09,218.02 L786.31,217.24 L786.54,216.45 L786.76,215.68 L786.99,214.91 L787.21,214.15 L787.44,213.40 L787.66,212.66 L787.89,211.92 L788.11,211.20 L788.34,210.48 L788.56,209.78 L788.79,209.08 L789.01,208.40 L789.24,207.73 L789.46,207.07 L789.68,206.42 L789.91,205.79 L790.13,205.17 L790.36,204.56 L790.58,203.96 L790.81,203.38 L791.03,202.81 L791.26,202.26 L791.48,201.72 L791.71,201.20 L791.93,200.69 L792.16,200.20 L792.38,199.73 L792.61,199.27 L792.83,198.82 L793.06,198.40 L793.28,197.98 L793.51,197.59 L793.73,197.21 L793.96,196.86 L794.18,196.51 L794.40,196.19 L794.63,195.88 L794.85,195.60 L795.08,195.33 L795.30,195.07 L795.53,194.84 L795.75,194.62 L795.98,194.43 L796.20,194.25 L796.43,194.09 L796.65,193.95 L796.88,193.83 L797.10,193.72 L797.33,193.64 L797.55,193.57 L797.78,193.53 L798.00,193.50 L798.23,193.49 L798.45,193.50 L798.67,193.53 L798.90,193.58 L799.12,193.65 L799.35,193.74 L799.57,193.84 L799.80,193.96 L800.02,194.11 L800.25,194.27 L800.47,194.45 L800.70,194.65 L800.92,194.86 L801.15,195.10 L801.37,195.35 L801.60,195.62 L801.82,195.91 L802.05,196.21 L802.27,196.53 L802.50,196.87 L802.72,197.23 L802.95,197.61 L803.17,198.00 L803.39,198.40 L803.62,198.83 L803.84,199.27 L804.07,199.72 L804.29,200.19 L804.52,200.68 L804.74,201.18 L804.97,201.69 L805.19,202.22 L805.42,202.77 L805.64,203.33 L805.87,203.90 L806.09,204.48 L806.32,205.08 L806.54,205.69 L806.77,206.31 L806.99,206.95 L807.22,207.60 L807.44,208.25 L807.66,208.92 L807.89,209.60 L808.11,210.29 L808.34,210.99 L808.56,211.70 L808.79,212.41 L809.01,213.14 L809.24,213.87 L809.46,214.61 L809.69,215.36 L809.91,216.12 L810.14,216.88 L810.36,217.64 L810.59,218.42 L810.81,219.19 L811.04,219.97 L811.26,220.76 L811.49,221.55 L811.71,222.34 L811.93,223.13 L812.16,223.93 L812.38,224.72 L812.61,225.52 L812.83,226.32 L813.06,227.11 L813.28,227.91 L813.51,228.70 L813.73,229.49 L813.96,230.27 L814.18,231.06 L814.41,231.83 L814.63,232.60 L814.86,233.37 L815.08,234.12 L815.31,234.87 L815.53,235.61 L815.76,236.34 L815.98,237.06 L816.21,237.76 L816.43,238.45 L816.65,239.13 L816.88,239.79 L817.10,240.43 L817.33,241.05 L817.55,241.66 L817.78,242.24 L818.00,242.79 L818.23,243.32 L818.45,243.81 L818.68,244.28 L818.90,244.71 L819.13,245.11 L819.35,245.47 L819.58,245.79 L819.80,246.06 L820.03,246.29 L820.25,246.47 L820.48,246.60 L820.70,246.67 L820.92,246.70 L821.15,246.67 L821.37,246.60 L821.60,246.47 L821.82,246.29 L822.05,246.06 L822.27,245.79 L822.50,245.48 L822.72,245.13 L822.95,244.73 L823.17,244.31 L823.40,243.85 L823.62,243.36 L823.85,242.85 L824.07,242.31 L824.30,241.74 L824.52,241.16 L824.75,240.55 L824.97,239.93 L825.20,239.29 L825.42,238.64 L825.64,237.97 L825.87,237.30 L826.09,236.61 L826.32,235.91 L826.54,235.20 L826.77,234.49 L826.99,233.77 L827.22,233.05 L827.44,232.31 L827.67,231.58 L827.89,230.84 L828.12,230.10 L828.34,229.36 L828.57,228.62 L828.79,227.88 L829.02,227.13 L829.24,226.39 L829.47,225.65 L829.69,224.92 L829.91,224.18 L830.14,223.45 L830.36,222.72 L830.59,222.00 L830.81,221.28 L831.04,220.56 L831.26,219.86 L831.49,219.16 L831.71,218.46 L831.94,217.77 L832.16,217.09 L832.39,216.42 L832.61,215.76 L832.84,215.10 L833.06,214.45 L833.29,213.82 L833.51,213.19 L833.74,212.57 L833.96,211.97 L834.19,211.37 L834.41,210.79 L834.63,210.21 L834.86,209.65 L835.08,209.10 L835.31,208.57 L835.53,208.04 L835.76,207.53 L835.98,207.04 L836.21,206.55 L836.43,206.08 L836.66,205.62 L836.88,205.18 L837.11,204.75 L837.33,204.34 L837.56,203.94 L837.78,203.56 L838.01,203.19 L838.23,202.84 L838.46,202.50 L838.68,202.18 L838.90,201.87 L839.13,201.58 L839.35,201.31 L839.58,201.05 L839.80,200.81 L840.03,200.58 L840.25,200.37 L840.48,200.18 L840.70,200.01 L840.93,199.85 L841.15,199.71 L841.38,199.58 L841.60,199.47 L841.83,199.38 L842.05,199.31 L842.28,199.25 L842.50,199.21 L842.73,199.19 L842.95,199.18 L843.18,199.19 L843.40,199.22 L843.62,199.26 L843.85,199.32 L844.07,199.40 L844.30,199.50 L844.52,199.61 L844.75,199.74 L844.97,199.88 L845.20,200.04 L845.42,200.22 L845.65,200.41 L845.87,200.62 L846.10,200.85 L846.32,201.09 L846.55,201.35 L846.77,201.62 L847.00,201.91 L847.22,202.21 L847.45,202.53 L847.67,202.86 L847.89,203.21 L848.12,203.57 L848.34,203.95 L848.57,204.34 L848.79,204.74 L849.02,205.16 L849.24,205.59 L849.47,206.04 L849.69,206.50 L849.92,206.97 L850.14,207.45 L850.37,207.94 L850.59,208.45 L850.82,208.97 L851.04,209.50 L851.27,210.04 L851.49,210.59 L851.72,211.15 L851.94,211.73 L852.17,212.31 L852.39,212.90 L852.61,213.50 L852.84,214.11 L853.06,214.73 L853.29,215.35 L853.51,215.98 L853.74,216.62 L853.96,217.27 L854.19,217.93 L854.41,218.59 L854.64,219.25 L854.86,219.92 L855.09,220.60 L855.31,221.28 L855.54,221.97 L855.76,222.65 L855.99,223.35 L856.21,224.04 L856.44,224.74 L856.66,225.44 L856.88,226.14 L857.11,226.84 L857.33,227.54 L857.56,228.24 L857.78,228.94 L858.01,229.64 L858.23,230.34 L858.46,231.04 L858.68,231.73 L858.91,232.42 L859.13,233.10 L859.36,233.78 L859.58,234.46 L859.81,235.12 L860.03,235.79 L860.26,236.44 L860.48,237.08 L860.71,237.72 L860.93,238.34 L861.16,238.96 L861.38,239.56 L861.60,240.15 L861.83,240.72 L862.05,241.28 L862.28,241.82 L862.50,242.34 L862.73,242.84 L862.95,243.32 L863.18,243.78 L863.40,244.21 L863.63,244.61 L863.85,244.99 L864.08,245.33 L864.30,245.64 L864.53,245.91 L864.75,246.15 L864.98,246.35 L865.20,246.50 L865.43,246.61 L865.65,246.68 L865.88,246.70 L866.10,246.68 L866.32,246.61 L866.55,246.50 L866.77,246.35 L867.00,246.15 L867.22,245.92 L867.45,245.65 L867.67,245.35 L867.90,245.02 L868.12,244.65 L868.35,244.26 L868.57,243.84 L868.80,243.40 L869.02,242.94 L869.25,242.46 L869.47,241.96 L869.70,241.45 L869.92,240.92 L870.15,240.38 L870.37,239.83 L870.59,239.26 L870.82,238.69 L871.04,238.10 L871.27,237.51 L871.49,236.91 L871.72,236.31 L871.94,235.70 L872.17,235.09 L872.39,234.47 L872.62,233.85 L872.84,233.23 L873.07,232.61 L873.29,231.98 L873.52,231.36 L873.74,230.74 L873.97,230.11 L874.19,229.49 L874.42,228.87 L874.64,228.25 L874.87,227.64 L875.09,227.03 L875.31,226.42 L875.54,225.81 L875.76,225.21 L875.99,224.62 L876.21,224.03 L876.44,223.45 L876.66,222.87 L876.89,222.30 L877.11,221.73 L877.34,221.17 L877.56,220.62 L877.79,220.08 L878.01,219.55 L878.24,219.02 L878.46,218.51 L878.69,218.00 L878.91,217.50 L879.14,217.01 L879.36,216.53 L879.58,216.06 L879.81,215.60 L880.03,215.15 L880.26,214.71 L880.48,214.29 L880.71,213.87 L880.93,213.47 L881.16,213.07 L881.38,212.69 L881.61,212.32 L881.83,211.97 L882.06,211.62 L882.28,211.29 L882.51,210.97 L882.73,210.66 L882.96,210.37 L883.18,210.09 L883.41,209.82 L883.63,209.57 L883.86,209.32 L884.08,209.10 L884.30,208.88 L884.53,208.68 L884.75,208.50 L884.98,208.32 L885.20,208.16 L885.43,208.02 L885.65,207.89 L885.88,207.77 L886.10,207.67 L886.33,207.58 L886.55,207.50 L886.78,207.44 L887.00,207.40 L887.23,207.36 L887.45,207.34 L887.68,207.34 L887.90,207.35 L888.13,207.37 L888.35,207.41 L888.57,207.46 L888.80,207.53 L889.02,207.61 L889.25,207.70 L889.47,207.81 L889.70,207.93 L889.92,208.06 L890.15,208.21 L890.37,208.37 L890.60,208.54 L890.82,208.73 L891.05,208.93 L891.27,209.14 L891.50,209.37 L891.72,209.61 L891.95,209.86 L892.17,210.12 L892.40,210.40 L892.62,210.69 L892.85,210.99 L893.07,211.30 L893.29,211.62 L893.52,211.95 L893.74,212.30 L893.97,212.65 L894.19,213.02 L894.42,213.40 L894.64,213.78 L894.87,214.18 L895.09,214.59 L895.32,215.01 L895.54,215.43 L895.77,215.87 L895.99,216.31 L896.22,216.77 L896.44,217.23 L896.67,217.70 L896.89,218.17 L897.12,218.66 L897.34,219.15 L897.56,219.65 L897.79,220.16 L898.01,220.67 L898.24,221.19 L898.46,221.71 L898.69,222.24 L898.91,222.78 L899.14,223.32 L899.36,223.86 L899.59,224.41 L899.81,224.97 L900.04,225.52 L900.26,226.08 L900.49,226.65 L900.71,227.21 L900.94,227.78 L901.16,228.35 L901.39,228.92 L901.61,229.49 L901.84,230.07 L902.06,230.64 L902.28,231.21 L902.51,231.79 L902.73,232.36 L902.96,232.93 L903.18,233.50 L903.41,234.06 L903.63,234.63 L903.86,235.19 L904.08,235.74 L904.31,236.29 L904.53,236.84 L904.76,237.38 L904.98,237.92 L905.21,238.45 L905.43,238.97 L905.66,239.48 L905.88,239.99 L906.11,240.48 L906.33,240.97 L906.55,241.44 L906.78,241.90 L907.00,242.35 L907.23,242.79 L907.45,243.21 L907.68,243.61 L907.90,244.00 L908.13,244.36 L908.35,244.71 L908.58,245.03 L908.80,245.33 L909.03,245.61 L909.25,245.85 L909.48,246.07 L909.70,246.26 L909.93,246.42 L910.15,246.54 L910.38,246.63 L910.60,246.68 L910.83,246.70 L911.05,246.68 L911.27,246.63 L911.50,246.54 L911.72,246.42 L911.95,246.27 L912.17,246.08 L912.40,245.87 L912.62,245.63 L912.85,245.36 L913.07,245.08 L913.30,244.77 L913.52,244.44 L913.75,244.09 L913.97,243.72 L914.20,243.34 L914.42,242.95 L914.65,242.54 L914.87,242.13 L915.10,241.70 L915.32,241.26 L915.54,240.82 L915.77,240.37 L915.99,239.91 L916.22,239.45 L916.44,238.98 L916.67,238.50 L916.89,238.03 L917.12,237.55 L917.34,237.06 L917.57,236.58 L917.79,236.09 L918.02,235.61 L918.24,235.12 L918.47,234.64 L918.69,234.15 L918.92,233.66 L919.14,233.18 L919.37,232.70 L919.59,232.22 L919.82,231.74 L920.04,231.27 L920.26,230.80 L920.49,230.33 L920.71,229.86 L920.94,229.41 L921.16,228.95 L921.39,228.50 L921.61,228.05 L921.84,227.62 L922.06,227.18 L922.29,226.75 L922.51,226.33 L922.74,225.92 L922.96,225.51 L923.19,225.10 L923.41,224.71 L923.64,224.32 L923.86,223.94 L924.09,223.57 L924.31,223.20 L924.53,222.85 L924.76,222.50 L924.98,222.16 L925.21,221.83 L925.43,221.50 L925.66,221.19 L925.88,220.89 L926.11,220.59 L926.33,220.31 L926.56,220.03 L926.78,219.76 L927.01,219.50 L927.23,219.26 L927.46,219.02 L927.68,218.79 L927.91,218.58 L928.13,218.37 L928.36,218.17 L928.58,217.99 L928.81,217.81 L929.03,217.65 L929.25,217.49 L929.48,217.35 L929.70,217.22 L929.93,217.09 L930.15,216.98 L930.38,216.88 L930.60,216.79 L930.83,216.71 L931.05,216.64 L931.28,216.59 L931.50,216.54 L931.73,216.51 L931.95,216.48 L932.18,216.47 L932.40,216.46 L932.63,216.47 L932.85,216.49 L933.08,216.52 L933.30,216.56" stroke="#008000" stroke-width="2.6" fill="none" stroke-linejoin="round" stroke-linecap="round" />
<path d="M573.70,223.15 L573.92,223.11 L574.15,223.09 L574.37,223.08 L574.60,223.07 L574.82,223.07 L575.05,223.08 L575.27,223.10 L575.50,223.13 L575.72,223.17 L575.95,223.21 L576.17,223.27 L576.40,223.33 L576.62,223.40 L576.85,223.48 L577.07,223.56 L577.30,223.66 L577.52,223.77 L577.75,223.88 L577.97,224.00 L578.19,224.13 L578.42,224.27 L578.64,224.41 L578.87,224.57 L579.09,224.73 L579.32,224.90 L579.54,225.08 L579.77,225.26 L579.99,225.46 L580.22,225.66 L580.44,225.87 L580.67,226.08 L580.89,226.31 L581.12,226.54 L581.34,226.77 L581.57,227.02 L581.79,227.27 L582.02,227.53 L582.24,227.79 L582.47,228.07 L582.69,228.34 L582.91,228.63 L583.14,228.92 L583.36,229.22 L583.59,229.52 L583.81,229.83 L584.04,230.14 L584.26,230.46 L584.49,230.78 L584.71,231.11 L584.94,231.44 L585.16,231.78 L585.39,232.12 L585.61,232.46 L585.84,232.81 L586.06,233.17 L586.29,233.52 L586.51,233.88 L586.74,234.24 L586.96,234.61 L587.18,234.98 L587.41,235.35 L587.63,235.72 L587.86,236.09 L588.08,236.46 L588.31,236.84 L588.53,237.21 L588.76,237.59 L588.98,237.97 L589.21,238.34 L589.43,238.72 L589.66,239.09 L589.88,239.46 L590.11,239.84 L590.33,240.20 L590.56,240.57 L590.78,240.93 L591.01,241.29 L591.23,241.65 L591.46,242.00 L591.68,242.35 L591.90,242.69 L592.13,243.02 L592.35,243.35 L592.58,243.67 L592.80,243.98 L593.03,244.28 L593.25,244.56 L593.48,244.84 L593.70,245.11 L593.93,245.36 L594.15,245.59 L594.38,245.81 L594.60,246.00 L594.83,246.18 L595.05,246.33 L595.28,246.46 L595.50,246.56 L595.73,246.64 L595.95,246.68 L596.17,246.70 L596.40,246.68 L596.62,246.64 L596.85,246.56 L597.07,246.46 L597.30,246.33 L597.52,246.17 L597.75,245.99 L597.97,245.79 L598.20,245.56 L598.42,245.32 L598.65,245.06 L598.87,244.78 L599.10,244.49 L599.32,244.18 L599.55,243.86 L599.77,243.53 L600.00,243.19 L600.22,242.84 L600.45,242.48 L600.67,242.11 L600.89,241.73 L601.12,241.35 L601.34,240.95 L601.57,240.56 L601.79,240.15 L602.02,239.74 L602.24,239.33 L602.47,238.91 L602.69,238.48 L602.92,238.06 L603.14,237.63 L603.37,237.19 L603.59,236.76 L603.82,236.32 L604.04,235.88 L604.27,235.44 L604.49,235.00 L604.72,234.55 L604.94,234.11 L605.16,233.66 L605.39,233.22 L605.61,232.78 L605.84,232.33 L606.06,231.89 L606.29,231.45 L606.51,231.01 L606.74,230.57 L606.96,230.14 L607.19,229.71 L607.41,229.28 L607.64,228.85 L607.86,228.43 L608.09,228.01 L608.31,227.59 L608.54,227.18 L608.76,226.77 L608.99,226.36 L609.21,225.96 L609.44,225.57 L609.66,225.18 L609.88,224.80 L610.11,224.42 L610.33,224.04 L610.56,223.68 L610.78,223.32 L611.01,222.96 L611.23,222.62 L611.46,222.28 L611.68,221.94 L611.91,221.62 L612.13,221.30 L612.36,220.99 L612.58,220.68 L612.81,220.39 L613.03,220.10 L613.26,219.82 L613.48,219.55 L613.71,219.29 L613.93,219.04 L614.15,218.80 L614.38,218.56 L614.60,218.34 L614.83,218.12 L615.05,217.91 L615.28,217.72 L615.50,217.53 L615.73,217.35 L615.95,217.19 L616.18,217.03 L616.40,216.88 L616.63,216.75 L616.85,216.62 L617.08,216.50 L617.30,216.40 L617.53,216.30 L617.75,216.22 L617.98,216.15 L618.20,216.09 L618.43,216.03 L618.65,215.99 L618.87,215.96 L619.10,215.95 L619.32,215.94 L619.55,215.94 L619.77,215.96 L620.00,215.98 L620.22,216.02 L620.45,216.07 L620.67,216.13 L620.90,216.20 L621.12,216.28 L621.35,216.37 L621.57,216.47 L621.80,216.59 L622.02,216.71 L622.25,216.85 L622.47,216.99 L622.70,217.15 L622.92,217.32 L623.14,217.50 L623.37,217.69 L623.59,217.89 L623.82,218.10 L624.04,218.32 L624.27,218.55 L624.49,218.79 L624.72,219.04 L624.94,219.30 L625.17,219.57 L625.39,219.85 L625.62,220.14 L625.84,220.43 L626.07,220.74 L626.29,221.06 L626.52,221.38 L626.74,221.71 L626.97,222.06 L627.19,222.41 L627.42,222.77 L627.64,223.13 L627.86,223.51 L628.09,223.89 L628.31,224.28 L628.54,224.67 L628.76,225.07 L628.99,225.48 L629.21,225.90 L629.44,226.32 L629.66,226.75 L629.89,227.18 L630.11,227.62 L630.34,228.06 L630.56,228.51 L630.79,228.96 L631.01,229.42 L631.24,229.88 L631.46,230.35 L631.69,230.81 L631.91,231.29 L632.13,231.76 L632.36,232.24 L632.58,232.71 L632.81,233.19 L633.03,233.67 L633.26,234.16 L633.48,234.64 L633.71,235.12 L633.93,235.60 L634.16,236.09 L634.38,236.57 L634.61,237.04 L634.83,237.52 L635.06,238.00 L635.28,238.47 L635.51,238.93 L635.73,239.40 L635.96,239.86 L636.18,240.31 L636.41,240.75 L636.63,241.19 L636.85,241.63 L637.08,242.05 L637.30,242.46 L637.53,242.87 L637.75,243.26 L637.98,243.64 L638.20,244.01 L638.43,244.36 L638.65,244.69 L638.88,245.01 L639.10,245.30 L639.33,245.57 L639.55,245.82 L639.78,246.05 L640.00,246.24 L640.23,246.40 L640.45,246.53 L640.68,246.62 L640.90,246.68 L641.12,246.70 L641.35,246.68 L641.57,246.62 L641.80,246.53 L642.02,246.40 L642.25,246.23 L642.47,246.04 L642.70,245.81 L642.92,245.56 L643.15,245.28 L643.37,244.97 L643.60,244.65 L643.82,244.30 L644.05,243.94 L644.27,243.56 L644.50,243.16 L644.72,242.75 L644.95,242.33 L645.17,241.89 L645.40,241.44 L645.62,240.98 L645.84,240.51 L646.07,240.04 L646.29,239.55 L646.52,239.06 L646.74,238.56 L646.97,238.05 L647.19,237.54 L647.42,237.02 L647.64,236.50 L647.87,235.97 L648.09,235.44 L648.32,234.91 L648.54,234.37 L648.77,233.84 L648.99,233.30 L649.22,232.76 L649.44,232.21 L649.67,231.67 L649.89,231.13 L650.12,230.58 L650.34,230.04 L650.56,229.50 L650.79,228.96 L651.01,228.42 L651.24,227.88 L651.46,227.35 L651.69,226.82 L651.91,226.29 L652.14,225.76 L652.36,225.24 L652.59,224.72 L652.81,224.21 L653.04,223.70 L653.26,223.20 L653.49,222.70 L653.71,222.21 L653.94,221.72 L654.16,221.24 L654.39,220.76 L654.61,220.29 L654.83,219.83 L655.06,219.38 L655.28,218.93 L655.51,218.50 L655.73,218.06 L655.96,217.64 L656.18,217.23 L656.41,216.82 L656.63,216.43 L656.86,216.04 L657.08,215.66 L657.31,215.29 L657.53,214.94 L657.76,214.59 L657.98,214.25 L658.21,213.92 L658.43,213.61 L658.66,213.30 L658.88,213.00 L659.11,212.72 L659.33,212.45 L659.55,212.19 L659.78,211.94 L660.00,211.70 L660.23,211.47 L660.45,211.26 L660.68,211.06 L660.90,210.87 L661.13,210.69 L661.35,210.53 L661.58,210.38 L661.80,210.24 L662.03,210.11 L662.25,210.00 L662.48,209.90 L662.70,209.81 L662.93,209.73 L663.15,209.67 L663.38,209.63 L663.60,209.59 L663.82,209.57 L664.05,209.56 L664.27,209.57 L664.50,209.58 L664.72,209.62 L664.95,209.66 L665.17,209.72 L665.40,209.79 L665.62,209.88 L665.85,209.98 L666.07,210.09 L666.30,210.21 L666.52,210.35 L666.75,210.50 L666.97,210.66 L667.20,210.84 L667.42,211.03 L667.65,211.23 L667.87,211.45 L668.10,211.67 L668.32,211.91 L668.54,212.17 L668.77,212.43 L668.99,212.71 L669.22,213.00 L669.44,213.30 L669.67,213.61 L669.89,213.93 L670.12,214.27 L670.34,214.61 L670.57,214.97 L670.79,215.34 L671.02,215.72 L671.24,216.11 L671.47,216.50 L671.69,216.91 L671.92,217.33 L672.14,217.76 L672.37,218.20 L672.59,218.65 L672.81,219.10 L673.04,219.56 L673.26,220.04 L673.49,220.52 L673.71,221.01 L673.94,221.50 L674.16,222.00 L674.39,222.51 L674.61,223.03 L674.84,223.55 L675.06,224.08 L675.29,224.62 L675.51,225.15 L675.74,225.70 L675.96,226.25 L676.19,226.80 L676.41,227.36 L676.64,227.92 L676.86,228.48 L677.09,229.05 L677.31,229.62 L677.53,230.19 L677.76,230.76 L677.98,231.34 L678.21,231.91 L678.43,232.48 L678.66,233.06 L678.88,233.63 L679.11,234.20 L679.33,234.77 L679.56,235.34 L679.78,235.91 L680.01,236.47 L680.23,237.02 L680.46,237.58 L680.68,238.12 L680.91,238.67 L681.13,239.20 L681.36,239.73 L681.58,240.24 L681.80,240.75 L682.03,241.25 L682.25,241.74 L682.48,242.21 L682.70,242.67 L682.93,243.12 L683.15,243.55 L683.38,243.96 L683.60,244.35 L683.83,244.72 L684.05,245.07 L684.28,245.39 L684.50,245.68 L684.73,245.94 L684.95,246.16 L685.18,246.35 L685.40,246.50 L685.63,246.61 L685.85,246.68 L686.08,246.70 L686.30,246.68 L686.52,246.61 L686.75,246.50 L686.97,246.35 L687.20,246.16 L687.42,245.93 L687.65,245.67 L687.87,245.37 L688.10,245.05 L688.32,244.70 L688.55,244.32 L688.77,243.92 L689.00,243.50 L689.22,243.06 L689.45,242.61 L689.67,242.13 L689.90,241.64 L690.12,241.14 L690.35,240.62 L690.57,240.10 L690.79,239.56 L691.02,239.01 L691.24,238.45 L691.47,237.89 L691.69,237.31 L691.92,236.73 L692.14,236.15 L692.37,235.56 L692.59,234.96 L692.82,234.36 L693.04,233.76 L693.27,233.15 L693.49,232.54 L693.72,231.92 L693.94,231.31 L694.17,230.69 L694.39,230.08 L694.62,229.46 L694.84,228.84 L695.07,228.23 L695.29,227.61 L695.51,227.00 L695.74,226.39 L695.96,225.78 L696.19,225.18 L696.41,224.57 L696.64,223.97 L696.86,223.38 L697.09,222.79 L697.31,222.20 L697.54,221.62 L697.76,221.04 L697.99,220.47 L698.21,219.91 L698.44,219.35 L698.66,218.80 L698.89,218.25 L699.11,217.72 L699.34,217.19 L699.56,216.67 L699.78,216.15 L700.01,215.65 L700.23,215.15 L700.46,214.67 L700.68,214.19 L700.91,213.72 L701.13,213.27 L701.36,212.82 L701.58,212.38 L701.81,211.96 L702.03,211.54 L702.26,211.14 L702.48,210.75 L702.71,210.37 L702.93,210.00 L703.16,209.64 L703.38,209.30 L703.61,208.97 L703.83,208.65 L704.05,208.34 L704.28,208.05 L704.50,207.77 L704.73,207.50 L704.95,207.25 L705.18,207.01 L705.40,206.78 L705.63,206.57 L705.85,206.37 L706.08,206.19 L706.30,206.02 L706.53,205.87 L706.75,205.72 L706.98,205.60 L707.20,205.49 L707.43,205.39 L707.65,205.31 L707.88,205.24 L708.10,205.19 L708.33,205.15 L708.55,205.13 L708.77,205.12 L709.00,205.12 L709.22,205.14 L709.45,205.18 L709.67,205.23 L709.90,205.30 L710.12,205.38 L710.35,205.48 L710.57,205.59 L710.80,205.71 L711.02,205.85 L711.25,206.01 L711.47,206.17 L711.70,206.36 L711.92,206.56 L712.15,206.77 L712.37,206.99 L712.60,207.23 L712.82,207.49 L713.04,207.76 L713.27,208.04 L713.49,208.33 L713.72,208.64 L713.94,208.96 L714.17,209.30 L714.39,209.64 L714.62,210.00 L714.84,210.38 L715.07,210.76 L715.29,211.16 L715.52,211.57 L715.74,211.99 L715.97,212.42 L716.19,212.86 L716.42,213.32 L716.64,213.78 L716.87,214.26 L717.09,214.74 L717.32,215.24 L717.54,215.74 L717.76,216.26 L717.99,216.78 L718.21,217.31 L718.44,217.85 L718.66,218.40 L718.89,218.96 L719.11,219.52 L719.34,220.09 L719.56,220.67 L719.79,221.25 L720.01,221.84 L720.24,222.44 L720.46,223.04 L720.69,223.65 L720.91,224.26 L721.14,224.87 L721.36,225.49 L721.59,226.12 L721.81,226.74 L722.03,227.37 L722.26,228.00 L722.48,228.63 L722.71,229.26 L722.93,229.90 L723.16,230.53 L723.38,231.17 L723.61,231.80 L723.83,232.43 L724.06,233.06 L724.28,233.69 L724.51,234.31 L724.73,234.93 L724.96,235.55 L725.18,236.16 L725.41,236.77 L725.63,237.37 L725.86,237.96 L726.08,238.54 L726.31,239.12 L726.53,239.68 L726.75,240.24 L726.98,240.78 L727.20,241.31 L727.43,241.83 L727.65,242.33 L727.88,242.82 L728.10,243.29 L728.33,243.73 L728.55,244.16 L728.78,244.56 L729.00,244.93 L729.23,245.28 L729.45,245.59 L729.68,245.88 L729.90,246.12 L730.13,246.32 L730.35,246.49 L730.58,246.60 L730.80,246.68 L731.02,246.70 L731.25,246.68 L731.47,246.60 L731.70,246.49 L731.92,246.32 L732.15,246.12 L732.37,245.87 L732.60,245.59 L732.82,245.27 L733.05,244.93 L733.27,244.55 L733.50,244.15 L733.72,243.72 L733.95,243.27 L734.17,242.80 L734.40,242.31 L734.62,241.80 L734.85,241.28 L735.07,240.74 L735.30,240.19 L735.52,239.63 L735.74,239.06 L735.97,238.47 L736.19,237.88 L736.42,237.28 L736.64,236.67 L736.87,236.06 L737.09,235.43 L737.32,234.81 L737.54,234.17 L737.77,233.54 L737.99,232.90 L738.22,232.26 L738.44,231.61 L738.67,230.96 L738.89,230.32 L739.12,229.67 L739.34,229.02 L739.57,228.37 L739.79,227.72 L740.01,227.07 L740.24,226.43 L740.46,225.79 L740.69,225.15 L740.91,224.51 L741.14,223.87 L741.36,223.24 L741.59,222.62 L741.81,221.99 L742.04,221.38 L742.26,220.77 L742.49,220.16 L742.71,219.56 L742.94,218.97 L743.16,218.38 L743.39,217.80 L743.61,217.23 L743.84,216.67 L744.06,216.11 L744.29,215.57 L744.51,215.03 L744.73,214.50 L744.96,213.98 L745.18,213.47 L745.41,212.97 L745.63,212.48 L745.86,212.01 L746.08,211.54 L746.31,211.08 L746.53,210.64 L746.76,210.20 L746.98,209.78 L747.21,209.37 L747.43,208.98 L747.66,208.59 L747.88,208.22 L748.11,207.86 L748.33,207.51 L748.56,207.18 L748.78,206.86 L749.00,206.56 L749.23,206.27 L749.45,205.99 L749.68,205.73 L749.90,205.48 L750.13,205.24 L750.35,205.02 L750.58,204.82 L750.80,204.63 L751.03,204.45 L751.25,204.29 L751.48,204.14 L751.70,204.01 L751.93,203.90 L752.15,203.80 L752.38,203.71 L752.60,203.64 L752.83,203.59 L753.05,203.55 L753.28,203.53 L753.50,203.52 L753.72,203.53 L753.95,203.55 L754.17,203.59 L754.40,203.64 L754.62,203.71 L754.85,203.80 L755.07,203.90 L755.30,204.01 L755.52,204.14 L755.75,204.29 L755.97,204.45 L756.20,204.63 L756.42,204.82 L756.65,205.02 L756.87,205.24 L757.10,205.48 L757.32,205.73 L757.55,205.99 L757.77,206.27 L758.00,206.56 L758.22,206.86 L758.44,207.18 L758.67,207.51 L758.89,207.86 L759.12,208.22 L759.34,208.59 L759.57,208.98 L759.79,209.37 L760.02,209.78 L760.24,210.20 L760.47,210.64 L760.69,211.08 L760.92,211.54 L761.14,212.01 L761.37,212.48 L761.59,212.97 L761.82,213.47 L762.04,213.98 L762.27,214.50 L762.49,215.03 L762.71,215.57 L762.94,216.11 L763.16,216.67 L763.39,217.23 L763.61,217.80 L763.84,218.38 L764.06,218.97 L764.29,219.56 L764.51,220.16 L764.74,220.77 L764.96,221.38 L765.19,221.99 L765.41,222.62 L765.64,223.24 L765.86,223.87 L766.09,224.51 L766.31,225.15 L766.54,225.79 L766.76,226.43 L766.99,227.07 L767.21,227.72 L767.43,228.37 L767.66,229.02 L767.88,229.67 L768.11,230.32 L768.33,230.96 L768.56,231.61 L768.78,232.26 L769.01,232.90 L769.23,233.54 L769.46,234.17 L769.68,234.81 L769.91,235.43 L770.13,236.06 L770.36,236.67 L770.58,237.28 L770.81,237.88 L771.03,238.47 L771.26,239.06 L771.48,239.63 L771.70,240.19 L771.93,240.74 L772.15,241.28 L772.38,241.80 L772.60,242.31 L772.83,242.80 L773.05,243.27 L773.28,243.72 L773.50,244.15 L773.73,244.55 L773.95,244.93 L774.18,245.27 L774.40,245.59 L774.63,245.87 L774.85,246.12 L775.08,246.32 L775.30,246.49 L775.53,246.60 L775.75,246.68 L775.98,246.70 L776.20,246.68 L776.42,246.60 L776.65,246.49 L776.87,246.32 L777.10,246.12 L777.32,245.88 L777.55,245.59 L777.77,245.28 L778.00,244.93 L778.22,244.56 L778.45,244.16 L778.67,243.73 L778.90,243.29 L779.12,242.82 L779.35,242.33 L779.57,241.83 L779.80,241.31 L780.02,240.78 L780.25,240.24 L780.47,239.68 L780.69,239.12 L780.92,238.54 L781.14,237.96 L781.37,237.37 L781.59,236.77 L781.82,236.16 L782.04,235.55 L782.27,234.93 L782.49,234.31 L782.72,233.69 L782.94,233.06 L783.17,232.43 L783.39,231.80 L783.62,231.17 L783.84,230.53 L784.07,229.90 L784.29,229.26 L784.52,228.63 L784.74,228.00 L784.97,227.37 L785.19,226.74 L785.41,226.12 L785.64,225.49 L785.86,224.87 L786.09,224.26 L786.31,223.65 L786.54,223.04 L786.76,222.44 L786.99,221.84 L787.21,221.25 L787.44,220.67 L787.66,220.09 L787.89,219.52 L788.11,218.96 L788.34,218.40 L788.56,217.85 L788.79,217.31 L789.01,216.78 L789.24,216.26 L789.46,215.74 L789.68,215.24 L789.91,214.74 L790.13,214.26 L790.36,213.78 L790.58,213.32 L790.81,212.86 L791.03,212.42 L791.26,211.99 L791.48,211.57 L791.71,211.16 L791.93,210.76 L792.16,210.38 L792.38,210.00 L792.61,209.64 L792.83,209.30 L793.06,208.96 L793.28,208.64 L793.51,208.33 L793.73,208.04 L793.96,207.76 L794.18,207.49 L794.40,207.23 L794.63,206.99 L794.85,206.77 L795.08,206.56 L795.30,206.36 L795.53,206.17 L795.75,206.01 L795.98,205.85 L796.20,205.71 L796.43,205.59 L796.65,205.48 L796.88,205.38 L797.10,205.30 L797.33,205.23 L797.55,205.18 L797.78,205.14 L798.00,205.12 L798.23,205.12 L798.45,205.13 L798.67,205.15 L798.90,205.19 L799.12,205.24 L799.35,205.31 L799.57,205.39 L799.80,205.49 L800.02,205.60 L800.25,205.72 L800.47,205.87 L800.70,206.02 L800.92,206.19 L801.15,206.37 L801.37,206.57 L801.60,206.78 L801.82,207.01 L802.05,207.25 L802.27,207.50 L802.50,207.77 L802.72,208.05 L802.95,208.34 L803.17,208.65 L803.39,208.97 L803.62,209.30 L803.84,209.64 L804.07,210.00 L804.29,210.37 L804.52,210.75 L804.74,211.14 L804.97,211.54 L805.19,211.96 L805.42,212.38 L805.64,212.82 L805.87,213.27 L806.09,213.72 L806.32,214.19 L806.54,214.67 L806.77,215.15 L806.99,215.65 L807.22,216.15 L807.44,216.67 L807.66,217.19 L807.89,217.72 L808.11,218.25 L808.34,218.80 L808.56,219.35 L808.79,219.91 L809.01,220.47 L809.24,221.04 L809.46,221.62 L809.69,222.20 L809.91,222.79 L810.14,223.38 L810.36,223.97 L810.59,224.57 L810.81,225.18 L811.04,225.78 L811.26,226.39 L811.49,227.00 L811.71,227.61 L811.93,228.23 L812.16,228.84 L812.38,229.46 L812.61,230.08 L812.83,230.69 L813.06,231.31 L813.28,231.92 L813.51,232.54 L813.73,233.15 L813.96,233.76 L814.18,234.36 L814.41,234.96 L814.63,235.56 L814.86,236.15 L815.08,236.73 L815.31,237.31 L815.53,237.89 L815.76,238.45 L815.98,239.01 L816.21,239.56 L816.43,240.10 L816.65,240.62 L816.88,241.14 L817.10,241.64 L817.33,242.13 L817.55,242.61 L817.78,243.06 L818.00,243.50 L818.23,243.92 L818.45,244.32 L818.68,244.70 L818.90,245.05 L819.13,245.37 L819.35,245.67 L819.58,245.93 L819.80,246.16 L820.03,246.35 L820.25,246.50 L820.48,246.61 L820.70,246.68 L820.92,246.70 L821.15,246.68 L821.37,246.61 L821.60,246.50 L821.82,246.35 L822.05,246.16 L822.27,245.94 L822.50,245.68 L822.72,245.39 L822.95,245.07 L823.17,244.72 L823.40,244.35 L823.62,243.96 L823.85,243.55 L824.07,243.12 L824.30,242.67 L824.52,242.21 L824.75,241.74 L824.97,241.25 L825.20,240.75 L825.42,240.24 L825.64,239.73 L825.87,239.20 L826.09,238.67 L826.32,238.12 L826.54,237.58 L826.77,237.02 L826.99,236.47 L827.22,235.91 L827.44,235.34 L827.67,234.77 L827.89,234.20 L828.12,233.63 L828.34,233.06 L828.57,232.48 L828.79,231.91 L829.02,231.34 L829.24,230.76 L829.47,230.19 L829.69,229.62 L829.91,229.05 L830.14,228.48 L830.36,227.92 L830.59,227.36 L830.81,226.80 L831.04,226.25 L831.26,225.70 L831.49,225.15 L831.71,224.62 L831.94,224.08 L832.16,223.55 L832.39,223.03 L832.61,222.51 L832.84,222.00 L833.06,221.50 L833.29,221.01 L833.51,220.52 L833.74,220.04 L833.96,219.56 L834.19,219.10 L834.41,218.65 L834.63,218.20 L834.86,217.76 L835.08,217.33 L835.31,216.91 L835.53,216.50 L835.76,216.11 L835.98,215.72 L836.21,215.34 L836.43,214.97 L836.66,214.61 L836.88,214.27 L837.11,213.93 L837.33,213.61 L837.56,213.30 L837.78,213.00 L838.01,212.71 L838.23,212.43 L838.46,212.17 L838.68,211.91 L838.90,211.67 L839.13,211.45 L839.35,211.23 L839.58,211.03 L839.80,210.84 L840.03,210.66 L840.25,210.50 L840.48,210.35 L840.70,210.21 L840.93,210.09 L841.15,209.98 L841.38,209.88 L841.60,209.79 L841.83,209.72 L842.05,209.66 L842.28,209.62 L842.50,209.58 L842.73,209.57 L842.95,209.56 L843.18,209.57 L843.40,209.59 L843.62,209.63 L843.85,209.67 L844.07,209.73 L844.30,209.81 L844.52,209.90 L844.75,210.00 L844.97,210.11 L845.20,210.24 L845.42,210.38 L845.65,210.53 L845.87,210.69 L846.10,210.87 L846.32,211.06 L846.55,211.26 L846.77,211.47 L847.00,211.70 L847.22,211.94 L847.45,212.19 L847.67,212.45 L847.89,212.72 L848.12,213.00 L848.34,213.30 L848.57,213.61 L848.79,213.92 L849.02,214.25 L849.24,214.59 L849.47,214.94 L849.69,215.29 L849.92,215.66 L850.14,216.04 L850.37,216.43 L850.59,216.82 L850.82,217.23 L851.04,217.64 L851.27,218.06 L851.49,218.50 L851.72,218.93 L851.94,219.38 L852.17,219.83 L852.39,220.29 L852.61,220.76 L852.84,221.24 L853.06,221.72 L853.29,222.21 L853.51,222.70 L853.74,223.20 L853.96,223.70 L854.19,224.21 L854.41,224.72 L854.64,225.24 L854.86,225.76 L855.09,226.29 L855.31,226.82 L855.54,227.35 L855.76,227.88 L855.99,228.42 L856.21,228.96 L856.44,229.50 L856.66,230.04 L856.88,230.58 L857.11,231.13 L857.33,231.67 L857.56,232.21 L857.78,232.76 L858.01,233.30 L858.23,233.84 L858.46,234.37 L858.68,234.91 L858.91,235.44 L859.13,235.97 L859.36,236.50 L859.58,237.02 L859.81,237.54 L860.03,238.05 L860.26,238.56 L860.48,239.06 L860.71,239.55 L860.93,240.04 L861.16,240.51 L861.38,240.98 L861.60,241.44 L861.83,241.89 L862.05,242.33 L862.28,242.75 L862.50,243.16 L862.73,243.56 L862.95,243.94 L863.18,244.30 L863.40,244.65 L863.63,244.97 L863.85,245.28 L864.08,245.56 L864.30,245.81 L864.53,246.04 L864.75,246.23 L864.98,246.40 L865.20,246.53 L865.43,246.62 L865.65,246.68 L865.88,246.70 L866.10,246.68 L866.32,246.62 L866.55,246.53 L866.77,246.40 L867.00,246.24 L867.22,246.05 L867.45,245.82 L867.67,245.57 L867.90,245.30 L868.12,245.01 L868.35,244.69 L868.57,244.36 L868.80,244.01 L869.02,243.64 L869.25,243.26 L869.47,242.87 L869.70,242.46 L869.92,242.05 L870.15,241.63 L870.37,241.19 L870.59,240.75 L870.82,240.31 L871.04,239.86 L871.27,239.40 L871.49,238.93 L871.72,238.47 L871.94,238.00 L872.17,237.52 L872.39,237.04 L872.62,236.57 L872.84,236.09 L873.07,235.60 L873.29,235.12 L873.52,234.64 L873.74,234.16 L873.97,233.67 L874.19,233.19 L874.42,232.71 L874.64,232.24 L874.87,231.76 L875.09,231.29 L875.31,230.81 L875.54,230.35 L875.76,229.88 L875.99,229.42 L876.21,228.96 L876.44,228.51 L876.66,228.06 L876.89,227.62 L877.11,227.18 L877.34,226.75 L877.56,226.32 L877.79,225.90 L878.01,225.48 L878.24,225.07 L878.46,224.67 L878.69,224.28 L878.91,223.89 L879.14,223.51 L879.36,223.13 L879.58,222.77 L879.81,222.41 L880.03,222.06 L880.26,221.71 L880.48,221.38 L880.71,221.06 L880.93,220.74 L881.16,220.43 L881.38,220.14 L881.61,219.85 L881.83,219.57 L882.06,219.30 L882.28,219.04 L882.51,218.79 L882.73,218.55 L882.96,218.32 L883.18,218.10 L883.41,217.89 L883.63,217.69 L883.86,217.50 L884.08,217.32 L884.30,217.15 L884.53,216.99 L884.75,216.85 L884.98,216.71 L885.20,216.59 L885.43,216.47 L885.65,216.37 L885.88,216.28 L886.10,216.20 L886.33,216.13 L886.55,216.07 L886.78,216.02 L887.00,215.98 L887.23,215.96 L887.45,215.94 L887.68,215.94 L887.90,215.95 L888.13,215.96 L888.35,215.99 L888.57,216.03 L888.80,216.09 L889.02,216.15 L889.25,216.22 L889.47,216.30 L889.70,216.40 L889.92,216.50 L890.15,216.62 L890.37,216.75 L890.60,216.88 L890.82,217.03 L891.05,217.19 L891.27,217.35 L891.50,217.53 L891.72,217.72 L891.95,217.91 L892.17,218.12 L892.40,218.34 L892.62,218.56 L892.85,218.80 L893.07,219.04 L893.29,219.29 L893.52,219.55 L893.74,219.82 L893.97,220.10 L894.19,220.39 L894.42,220.68 L894.64,220.99 L894.87,221.30 L895.09,221.62 L895.32,221.94 L895.54,222.28 L895.77,222.62 L895.99,222.96 L896.22,223.32 L896.44,223.68 L896.67,224.04 L896.89,224.42 L897.12,224.80 L897.34,225.18 L897.56,225.57 L897.79,225.96 L898.01,226.36 L898.24,226.77 L898.46,227.18 L898.69,227.59 L898.91,228.01 L899.14,228.43 L899.36,228.85 L899.59,229.28 L899.81,229.71 L900.04,230.14 L900.26,230.57 L900.49,231.01 L900.71,231.45 L900.94,231.89 L901.16,232.33 L901.39,232.78 L901.61,233.22 L901.84,233.66 L902.06,234.11 L902.28,234.55 L902.51,235.00 L902.73,235.44 L902.96,235.88 L903.18,236.32 L903.41,236.76 L903.63,237.19 L903.86,237.63 L904.08,238.06 L904.31,238.48 L904.53,238.91 L904.76,239.33 L904.98,239.74 L905.21,240.15 L905.43,240.56 L905.66,240.95 L905.88,241.35 L906.11,241.73 L906.33,242.11 L906.55,242.48 L906.78,242.84 L907.00,243.19 L907.23,243.53 L907.45,243.86 L907.68,244.18 L907.90,244.49 L908.13,244.78 L908.35,245.06 L908.58,245.32 L908.80,245.56 L909.03,245.79 L909.25,245.99 L909.48,246.17 L909.70,246.33 L909.93,246.46 L910.15,246.56 L910.38,246.64 L910.60,246.68 L910.83,246.70 L911.05,246.68 L911.27,246.64 L911.50,246.56 L911.72,246.46 L911.95,246.33 L912.17,246.18 L912.40,246.00 L912.62,245.81 L912.85,245.59 L913.07,245.36 L913.30,245.11 L913.52,244.84 L913.75,244.56 L913.97,244.28 L914.20,243.98 L914.42,243.67 L914.65,243.35 L914.87,243.02 L915.10,242.69 L915.32,242.35 L915.54,242.00 L915.77,241.65 L915.99,241.29 L916.22,240.93 L916.44,240.57 L916.67,240.20 L916.89,239.84 L917.12,239.46 L917.34,239.09 L917.57,238.72 L917.79,238.34 L918.02,237.97 L918.24,237.59 L918.47,237.21 L918.69,236.84 L918.92,236.46 L919.14,236.09 L919.37,235.72 L919.59,235.35 L919.82,234.98 L920.04,234.61 L920.26,234.24 L920.49,233.88 L920.71,233.52 L920.94,233.17 L921.16,232.81 L921.39,232.46 L921.61,232.12 L921.84,231.78 L922.06,231.44 L922.29,231.11 L922.51,230.78 L922.74,230.46 L922.96,230.14 L923.19,229.83 L923.41,229.52 L923.64,229.22 L923.86,228.92 L924.09,228.63 L924.31,228.34 L924.53,228.07 L924.76,227.79 L924.98,227.53 L925.21,227.27 L925.43,227.02 L925.66,226.77 L925.88,226.54 L926.11,226.31 L926.33,226.08 L926.56,225.87 L926.78,225.66 L927.01,225.46 L927.23,225.26 L927.46,225.08 L927.68,224.90 L927.91,224.73 L928.13,224.57 L928.36,224.41 L928.58,224.27 L928.81,224.13 L929.03,224.00 L929.25,223.88 L929.48,223.77 L929.70,223.66 L929.93,223.56 L930.15,223.48 L930.38,223.40 L930.60,223.33 L930.83,223.27 L931.05,223.21 L931.28,223.17 L931.50,223.13 L931.73,223.10 L931.95,223.08 L932.18,223.07 L932.40,223.07 L932.63,223.08 L932.85,223.09 L933.08,223.11 L933.30,223.15" stroke="#FF00FF" stroke-width="2.6" fill="none" stroke-linejoin="round" stroke-linecap="round" />
<line x1="573.70" y1="10.40" x2="933.30" y2="10.40" stroke="#000" stroke-width="1.5" />
<line x1="573.70" y1="9.65" x2="573.70" y2="283.15" stroke="#000" stroke-width="2" />
<line x1="573.70" y1="282.40" x2="933.30" y2="282.40" stroke="#000" stroke-width="1.5" />
<line x1="933.30" y1="9.65" x2="933.30" y2="283.15" stroke="#000" stroke-width="1.5" />
<line x1="568.70" y1="282.40" x2="573.70" y2="282.40" stroke="#000" stroke-width="1.5" />
<line x1="933.30" y1="282.40" x2="928.30" y2="282.40" stroke="#000" stroke-width="1.5" />
<line x1="570.70" y1="265.40" x2="573.70" y2="265.40" stroke="#000" stroke-width="1.5" />
<line x1="933.30" y1="265.40" x2="930.30" y2="265.40" stroke="#000" stroke-width="1.5" />
<line x1="568.70" y1="248.40" x2="573.70" y2="248.40" stroke="#000" stroke-width="1.5" />
<line x1="933.30" y1="248.40" x2="928.30" y2="248.40" stroke="#000" stroke-width="1.5" />
<line x1="570.70" y1="231.40" x2="573.70" y2="231.40" stroke="#000" stroke-width="1.5" />
<line x1="933.30" y1="231.40" x2="930.30" y2="231.40" stroke="#000" stroke-width="1.5" />
<line x1="568.70" y1="214.40" x2="573.70" y2="214.40" stroke="#000" stroke-width="1.5" />
<line x1="933.30" y1="214.40" x2="928.30" y2="214.40" stroke="#000" stroke-width="1.5" />
<line x1="570.70" y1="197.40" x2="573.70" y2="197.40" stroke="#000" stroke-width="1.5" />
<line x1="933.30" y1="197.40" x2="930.30" y2="197.40" stroke="#000" stroke-width="1.5" />
<line x1="568.70" y1="180.40" x2="573.70" y2="180.40" stroke="#000" stroke-width="1.5" />
<line x1="933.30" y1="180.40" x2="928.30" y2="180.40" stroke="#000" stroke-width="1.5" />
<line x1="570.70" y1="163.40" x2="573.70" y2="163.40" stroke="#000" stroke-width="1.5" />
<line x1="933.30" y1="163.40" x2="930.30" y2="163.40" stroke="#000" stroke-width="1.5" />
<line x1="568.70" y1="146.40" x2="573.70" y2="146.40" stroke="#000" stroke-width="1.5" />
<line x1="933.30" y1="146.40" x2="928.30" y2="146.40" stroke="#000" stroke-width="1.5" />
<line x1="570.70" y1="129.40" x2="573.70" y2="129.40" stroke="#000" stroke-width="1.5" />
<line x1="933.30" y1="129.40" x2="930.30" y2="129.40" stroke="#000" stroke-width="1.5" />
<line x1="568.70" y1="112.40" x2="573.70" y2="112.40" stroke="#000" stroke-width="1.5" />
<line x1="933.30" y1="112.40" x2="928.30" y2="112.40" stroke="#000" stroke-width="1.5" />
<line x1="570.70" y1="95.40" x2="573.70" y2="95.40" stroke="#000" stroke-width="1.5" />
<line x1="933.30" y1="95.40" x2="930.30" y2="95.40" stroke="#000" stroke-width="1.5" />
<line x1="568.70" y1="78.40" x2="573.70" y2="78.40" stroke="#000" stroke-width="1.5" />
<line x1="933.30" y1="78.40" x2="928.30" y2="78.40" stroke="#000" stroke-width="1.5" />
<line x1="570.70" y1="61.40" x2="573.70" y2="61.40" stroke="#000" stroke-width="1.5" />
<line x1="933.30" y1="61.40" x2="930.30" y2="61.40" stroke="#000" stroke-width="1.5" />
<line x1="568.70" y1="44.40" x2="573.70" y2="44.40" stroke="#000" stroke-width="1.5" />
<line x1="933.30" y1="44.40" x2="928.30" y2="44.40" stroke="#000" stroke-width="1.5" />
<line x1="570.70" y1="27.40" x2="573.70" y2="27.40" stroke="#000" stroke-width="1.5" />
<line x1="933.30" y1="27.40" x2="930.30" y2="27.40" stroke="#000" stroke-width="1.5" />
<line x1="568.70" y1="10.40" x2="573.70" y2="10.40" stroke="#000" stroke-width="1.5" />
<line x1="933.30" y1="10.40" x2="928.30" y2="10.40" stroke="#000" stroke-width="1.5" />
<text x="0" y="0" transform="translate(564.00,289.58) scale(1,1.045)" font-size="22" fill="#000" stroke="#000" stroke-width="0.35" text-anchor="end" font-weight="bold" >0</text>
<text x="0" y="0" transform="translate(564.00,255.58) scale(1,1.045)" font-size="22" fill="#000" stroke="#000" stroke-width="0.35" text-anchor="end" font-weight="bold" >10</text>
<text x="0" y="0" transform="translate(564.00,221.58) scale(1,1.045)" font-size="22" fill="#000" stroke="#000" stroke-width="0.35" text-anchor="end" font-weight="bold" >20</text>
<text x="0" y="0" transform="translate(564.00,187.58) scale(1,1.045)" font-size="22" fill="#000" stroke="#000" stroke-width="0.35" text-anchor="end" font-weight="bold" >30</text>
<text x="0" y="0" transform="translate(564.00,153.58) scale(1,1.045)" font-size="22" fill="#000" stroke="#000" stroke-width="0.35" text-anchor="end" font-weight="bold" >40</text>
<text x="0" y="0" transform="translate(564.00,119.58) scale(1,1.045)" font-size="22" fill="#000" stroke="#000" stroke-width="0.35" text-anchor="end" font-weight="bold" >50</text>
<text x="0" y="0" transform="translate(564.00,85.58) scale(1,1.045)" font-size="22" fill="#000" stroke="#000" stroke-width="0.35" text-anchor="end" font-weight="bold" >60</text>
<text x="0" y="0" transform="translate(564.00,51.58) scale(1,1.045)" font-size="22" fill="#000" stroke="#000" stroke-width="0.35" text-anchor="end" font-weight="bold" >70</text>
<text x="0" y="0" transform="translate(564.00,17.58) scale(1,1.045)" font-size="22" fill="#000" stroke="#000" stroke-width="0.35" text-anchor="end" font-weight="bold" >80</text>
<line x1="573.70" y1="282.40" x2="573.70" y2="287.40" stroke="#000" stroke-width="1.5" />
<line x1="573.70" y1="10.40" x2="573.70" y2="15.40" stroke="#000" stroke-width="1.5" />
<text x="0" y="0" transform="translate(573.70,312.40) scale(1,1.045)" font-size="27" fill="#000" stroke="#000" stroke-width="0.35" text-anchor="middle" font-weight="bold" >-2</text>
<line x1="618.65" y1="282.40" x2="618.65" y2="285.40" stroke="#000" stroke-width="1.5" />
<line x1="618.65" y1="10.40" x2="618.65" y2="13.40" stroke="#000" stroke-width="1.5" />
<line x1="663.60" y1="282.40" x2="663.60" y2="287.40" stroke="#000" stroke-width="1.5" />
<line x1="663.60" y1="10.40" x2="663.60" y2="15.40" stroke="#000" stroke-width="1.5" />
<text x="0" y="0" transform="translate(663.60,312.40) scale(1,1.045)" font-size="27" fill="#000" stroke="#000" stroke-width="0.35" text-anchor="middle" font-weight="bold" >-1</text>
<line x1="708.55" y1="282.40" x2="708.55" y2="285.40" stroke="#000" stroke-width="1.5" />
<line x1="708.55" y1="10.40" x2="708.55" y2="13.40" stroke="#000" stroke-width="1.5" />
<line x1="753.50" y1="282.40" x2="753.50" y2="287.40" stroke="#000" stroke-width="1.5" />
<line x1="753.50" y1="10.40" x2="753.50" y2="15.40" stroke="#000" stroke-width="1.5" />
<text x="0" y="0" transform="translate(753.50,312.40) scale(1,1.045)" font-size="27" fill="#000" stroke="#000" stroke-width="0.35" text-anchor="middle" font-weight="bold" >0</text>
<line x1="798.45" y1="282.40" x2="798.45" y2="285.40" stroke="#000" stroke-width="1.5" />
<line x1="798.45" y1="10.40" x2="798.45" y2="13.40" stroke="#000" stroke-width="1.5" />
<line x1="843.40" y1="282.40" x2="843.40" y2="287.40" stroke="#000" stroke-width="1.5" />
<line x1="843.40" y1="10.40" x2="843.40" y2="15.40" stroke="#000" stroke-width="1.5" />
<text x="0" y="0" transform="translate(843.40,312.40) scale(1,1.045)" font-size="27" fill="#000" stroke="#000" stroke-width="0.35" text-anchor="middle" font-weight="bold" >1</text>
<line x1="888.35" y1="282.40" x2="888.35" y2="285.40" stroke="#000" stroke-width="1.5" />
<line x1="888.35" y1="10.40" x2="888.35" y2="13.40" stroke="#000" stroke-width="1.5" />
<line x1="933.30" y1="282.40" x2="933.30" y2="287.40" stroke="#000" stroke-width="1.5" />
<line x1="933.30" y1="10.40" x2="933.30" y2="15.40" stroke="#000" stroke-width="1.5" />
<text x="0" y="0" transform="translate(933.30,312.40) scale(1,1.045)" font-size="27" fill="#000" stroke="#000" stroke-width="0.35" text-anchor="middle" font-weight="bold" >2</text>
<text x="0" y="0" transform="translate(752.00,337.00) scale(1,1.045)" font-size="27" fill="#000" stroke="#000" stroke-width="0.35" text-anchor="middle" font-weight="bold" >t (o.c.)</text>
<text x="0.00" y="0.00" font-size="33.0" fill="#000" text-anchor="middle" font-weight="bold" transform="translate(532,134.4) rotate(-90)">Harmonic order</text>
<text x="579.00" y="57.00" font-size="49.5" fill="#000" text-anchor="start" font-weight="normal" >(b)</text>
<line x1="700.00" y1="32.00" x2="733.00" y2="32.00" stroke="#FF00FF" stroke-width="2.6" />
<text x="0" y="0" transform="translate(734.50,36.40) scale(1,1.045)" font-size="15.3" fill="#000" stroke="#000" stroke-width="0.35" text-anchor="start" font-weight="bold" >Laser (0.0031 a.u.) + H11</text>
<path d="M701.5,52.5 L705.7,52.5 M711,52.5 L711.01,52.5 M716.2,52.5 L720.4,52.5 M725.4,52.5 L725.41,52.5 M730.7,52.5 L730.71,52.5" stroke="#000" stroke-width="2.4" stroke-linecap="round" fill="none"/>
<text x="0" y="0" transform="translate(736.00,57.20) scale(1,1.045)" font-size="15.3" fill="#000" stroke="#000" stroke-width="0.35" text-anchor="start" font-weight="bold" >Laser alone (0.0031 a.u.)</text>
<line x1="700.00" y1="73.00" x2="733.00" y2="73.00" stroke="#008000" stroke-width="2.6" />
<text x="0" y="0" transform="translate(736.00,78.00) scale(1,1.045)" font-size="15.3" fill="#000" stroke="#000" stroke-width="0.35" text-anchor="start" font-weight="bold" >Laser alone (0.00372 a.u.)</text>
<rect x="613.3" y="88.4" width="280.8" height="80" fill="#fff"/>
<clipPath id="ic"><rect x="613.3" y="88.4" width="280.8" height="80"/></clipPath>
<g clip-path="url(#ic)">
<path d="M613.30,204.40 L613.86,204.39 L614.42,204.36 L614.98,204.30 L615.54,204.23 L616.10,204.14 L616.67,204.02 L617.23,203.88 L617.79,203.73 L618.35,203.55 L618.91,203.36 L619.47,203.14 L620.03,202.91 L620.59,202.65 L621.15,202.38 L621.71,202.09 L622.28,201.79 L622.84,201.46 L623.40,201.12 L623.96,200.77 L624.52,200.39 L625.08,200.00 L625.64,199.60 L626.20,199.18 L626.76,198.75 L627.32,198.31 L627.89,197.85 L628.45,197.38 L629.01,196.89 L629.57,196.40 L630.13,195.89 L630.69,195.37 L631.25,194.84 L631.81,194.30 L632.37,193.75 L632.93,193.19 L633.50,192.62 L634.06,192.04 L634.62,191.45 L635.18,190.85 L635.74,190.24 L636.30,189.63 L636.86,189.01 L637.42,188.38 L637.98,187.74 L638.54,187.10 L639.11,186.45 L639.67,185.79 L640.23,185.13 L640.79,184.46 L641.35,183.79 L641.91,183.11 L642.47,182.42 L643.03,181.73 L643.59,181.03 L644.15,180.33 L644.72,179.63 L645.28,178.92 L645.84,178.20 L646.40,177.49 L646.96,176.77 L647.52,176.04 L648.08,175.31 L648.64,174.58 L649.20,173.84 L649.76,173.11 L650.33,172.36 L650.89,171.62 L651.45,170.87 L652.01,170.12 L652.57,169.37 L653.13,168.62 L653.69,167.86 L654.25,167.11 L654.81,166.35 L655.38,165.59 L655.94,164.82 L656.50,164.06 L657.06,163.29 L657.62,162.53 L658.18,161.76 L658.74,160.99 L659.30,160.22 L659.86,159.45 L660.42,158.68 L660.99,157.91 L661.55,157.14 L662.11,156.37 L662.67,155.60 L663.23,154.83 L663.79,154.06 L664.35,153.29 L664.91,152.52 L665.47,151.75 L666.03,150.98 L666.59,150.21 L667.16,149.44 L667.72,148.67 L668.28,147.90 L668.84,147.14 L669.40,146.37 L669.96,145.61 L670.52,144.84 L671.08,144.08 L671.64,143.32 L672.20,142.56 L672.77,141.80 L673.33,141.05 L673.89,140.29 L674.45,139.54 L675.01,138.79 L675.57,138.04 L676.13,137.30 L676.69,136.55 L677.25,135.81 L677.81,135.07 L678.38,134.33 L678.94,133.60 L679.50,132.87 L680.06,132.14 L680.62,131.41 L681.18,130.68 L681.74,129.96 L682.30,129.24 L682.86,128.53 L683.42,127.81 L683.99,127.10 L684.55,126.40 L685.11,125.69 L685.67,124.99 L686.23,124.30 L686.79,123.60 L687.35,122.91 L687.91,122.23 L688.47,121.54 L689.03,120.86 L689.60,120.19 L690.16,119.52 L690.72,118.85 L691.28,118.18 L691.84,117.52 L692.40,116.87 L692.96,116.22 L693.52,115.57 L694.08,114.92 L694.64,114.28 L695.21,113.65 L695.77,113.02 L696.33,112.39 L696.89,111.77 L697.45,111.15 L698.01,110.54 L698.57,109.93 L699.13,109.33 L699.69,108.73 L700.25,108.14 L700.82,107.55 L701.38,106.96 L701.94,106.38 L702.50,105.81 L703.06,105.24 L703.62,104.68 L704.18,104.12 L704.74,103.57 L705.30,103.02 L705.87,102.47 L706.43,101.94 L706.99,101.40 L707.55,100.88 L708.11,100.36 L708.67,99.84 L709.23,99.33 L709.79,98.82 L710.35,98.33 L710.91,97.83 L711.47,97.34 L712.04,96.86 L712.60,96.39 L713.16,95.92 L713.72,95.45 L714.28,94.99 L714.84,94.54 L715.40,94.09 L715.96,93.65 L716.52,93.22 L717.08,92.79 L717.65,92.37 L718.21,91.95 L718.77,91.54 L719.33,91.14 L719.89,90.74 L720.45,90.35 L721.01,89.97 L721.57,89.59 L722.13,89.22 L722.69,88.85 L723.26,88.49 L723.82,88.14 L724.38,87.79 L724.94,87.45 L725.50,87.12 L726.06,86.79 L726.62,86.47 L727.18,86.16 L727.74,85.85 L728.30,85.55 L728.87,85.26 L729.43,84.97 L729.99,84.69 L730.55,84.42 L731.11,84.15 L731.67,83.89 L732.23,83.64 L732.79,83.40 L733.35,83.16 L733.91,82.93 L734.48,82.70 L735.04,82.48 L735.60,82.27 L736.16,82.07 L736.72,81.87 L737.28,81.68 L737.84,81.49 L738.40,81.32 L738.96,81.15 L739.52,80.99 L740.09,80.83 L740.65,80.68 L741.21,80.54 L741.77,80.41 L742.33,80.28 L742.89,80.16 L743.45,80.05 L744.01,79.94 L744.57,79.84 L745.13,79.75 L745.70,79.67 L746.26,79.59 L746.82,79.52 L747.38,79.46 L747.94,79.40 L748.50,79.35 L749.06,79.31 L749.62,79.27 L750.18,79.25 L750.74,79.23 L751.31,79.21 L751.87,79.21 L752.43,79.21 L752.99,79.22 L753.55,79.23 L754.11,79.25 L754.67,79.28 L755.23,79.32 L755.79,79.37 L756.36,79.42 L756.92,79.47 L757.48,79.54 L758.04,79.61 L758.60,79.69 L759.16,79.78 L759.72,79.87 L760.28,79.97 L760.84,80.08 L761.40,80.19 L761.96,80.32 L762.53,80.44 L763.09,80.58 L763.65,80.72 L764.21,80.87 L764.77,81.03 L765.33,81.19 L765.89,81.36 L766.45,81.54 L767.01,81.73 L767.57,81.92 L768.14,82.12 L768.70,82.32 L769.26,82.53 L769.82,82.75 L770.38,82.98 L770.94,83.21 L771.50,83.45 L772.06,83.70 L772.62,83.95 L773.18,84.21 L773.75,84.47 L774.31,84.75 L774.87,85.02 L775.43,85.31 L775.99,85.60 L776.55,85.90 L777.11,86.21 L777.67,86.52 L778.23,86.84 L778.79,87.16 L779.36,87.49 L779.92,87.83 L780.48,88.18 L781.04,88.53 L781.60,88.88 L782.16,89.25 L782.72,89.62 L783.28,89.99 L783.84,90.37 L784.40,90.76 L784.97,91.15 L785.53,91.55 L786.09,91.96 L786.65,92.37 L787.21,92.79 L787.77,93.21 L788.33,93.64 L788.89,94.08 L789.45,94.52 L790.01,94.97 L790.58,95.42 L791.14,95.88 L791.70,96.34 L792.26,96.81 L792.82,97.29 L793.38,97.77 L793.94,98.26 L794.50,98.75 L795.06,99.25 L795.62,99.75 L796.19,100.26 L796.75,100.77 L797.31,101.29 L797.87,101.81 L798.43,102.34 L798.99,102.88 L799.55,103.42 L800.11,103.96 L800.67,104.51 L801.23,105.07 L801.80,105.62 L802.36,106.19 L802.92,106.76 L803.48,107.33 L804.04,107.91 L804.60,108.49 L805.16,109.08 L805.72,109.67 L806.28,110.27 L806.84,110.87 L807.41,111.47 L807.97,112.08 L808.53,112.70 L809.09,113.31 L809.65,113.94 L810.21,114.56 L810.77,115.19 L811.33,115.83 L811.89,116.46 L812.45,117.11 L813.02,117.75 L813.58,118.40 L814.14,119.05 L814.70,119.71 L815.26,120.37 L815.82,121.04 L816.38,121.70 L816.94,122.37 L817.50,123.05 L818.06,123.72 L818.63,124.40 L819.19,125.09 L819.75,125.77 L820.31,126.46 L820.87,127.16 L821.43,127.85 L821.99,128.55 L822.55,129.25 L823.11,129.95 L823.67,130.66 L824.24,131.37 L824.80,132.08 L825.36,132.79 L825.92,133.51 L826.48,134.23 L827.04,134.95 L827.60,135.67 L828.16,136.40 L828.72,137.12 L829.28,137.85 L829.85,138.58 L830.41,139.31 L830.97,140.05 L831.53,140.78 L832.09,141.52 L832.65,142.26 L833.21,142.99 L833.77,143.74 L834.33,144.48 L834.89,145.22 L835.46,145.96 L836.02,146.71 L836.58,147.45 L837.14,148.20 L837.70,148.95 L838.26,149.70 L838.82,150.44 L839.38,151.19 L839.94,151.94 L840.50,152.69 L841.07,153.44 L841.63,154.19 L842.19,154.94 L842.75,155.69 L843.31,156.44 L843.87,157.19 L844.43,157.94 L844.99,158.69 L845.55,159.43 L846.12,160.18 L846.68,160.93 L847.24,161.67 L847.80,162.42 L848.36,163.16 L848.92,163.90 L849.48,164.64 L850.04,165.38 L850.60,166.12 L851.16,166.86 L851.72,167.59 L852.29,168.32 L852.85,169.05 L853.41,169.78 L853.97,170.51 L854.53,171.23 L855.09,171.95 L855.65,172.67 L856.21,173.39 L856.77,174.10 L857.34,174.81 L857.90,175.52 L858.46,176.22 L859.02,176.92 L859.58,177.62 L860.14,178.31 L860.70,179.00 L861.26,179.69 L861.82,180.37 L862.38,181.04 L862.94,181.71 L863.51,182.38 L864.07,183.04 L864.63,183.70 L865.19,184.35 L865.75,185.00 L866.31,185.64 L866.87,186.27 L867.43,186.90 L867.99,187.53 L868.56,188.14 L869.12,188.75 L869.68,189.35 L870.24,189.95 L870.80,190.54 L871.36,191.12 L871.92,191.69 L872.48,192.25 L873.04,192.81 L873.60,193.36 L874.16,193.89 L874.73,194.42 L875.29,194.94 L875.85,195.45 L876.41,195.95 L876.97,196.44 L877.53,196.92 L878.09,197.38 L878.65,197.84 L879.21,198.28 L879.77,198.71 L880.34,199.13 L880.90,199.53 L881.46,199.92 L882.02,200.30 L882.58,200.66 L883.14,201.01 L883.70,201.34 L884.26,201.66 L884.82,201.97 L885.38,202.25 L885.95,202.52 L886.51,202.77 L887.07,203.01 L887.63,203.23 L888.19,203.43 L888.75,203.61 L889.31,203.78 L889.87,203.92 L890.43,204.05 L890.99,204.15 L891.56,204.24 L892.12,204.31 L892.68,204.36 L893.24,204.39 L893.80,204.40" stroke="#008000" stroke-width="2.6" fill="none" stroke-linejoin="round" stroke-linecap="round" />
<path d="M613.30,203.78 L613.86,203.63 L614.42,203.47 L614.98,203.29 L615.54,203.10 L616.10,202.89 L616.67,202.68 L617.23,202.44 L617.79,202.20 L618.35,201.94 L618.91,201.68 L619.47,201.40 L620.03,201.11 L620.59,200.81 L621.15,200.50 L621.71,200.17 L622.28,199.84 L622.84,199.50 L623.40,199.15 L623.96,198.79 L624.52,198.43 L625.08,198.05 L625.64,197.67 L626.20,197.28 L626.76,196.88 L627.32,196.48 L627.89,196.07 L628.45,195.65 L629.01,195.22 L629.57,194.79 L630.13,194.36 L630.69,193.91 L631.25,193.46 L631.81,193.01 L632.37,192.55 L632.93,192.09 L633.50,191.62 L634.06,191.15 L634.62,190.67 L635.18,190.19 L635.74,189.70 L636.30,189.21 L636.86,188.71 L637.42,188.22 L637.98,187.71 L638.54,187.21 L639.11,186.70 L639.67,186.19 L640.23,185.67 L640.79,185.16 L641.35,184.63 L641.91,184.11 L642.47,183.58 L643.03,183.05 L643.59,182.52 L644.15,181.99 L644.72,181.45 L645.28,180.91 L645.84,180.37 L646.40,179.83 L646.96,179.29 L647.52,178.74 L648.08,178.19 L648.64,177.64 L649.20,177.09 L649.76,176.54 L650.33,175.98 L650.89,175.43 L651.45,174.87 L652.01,174.32 L652.57,173.76 L653.13,173.20 L653.69,172.64 L654.25,172.08 L654.81,171.51 L655.38,170.95 L655.94,170.39 L656.50,169.83 L657.06,169.26 L657.62,168.70 L658.18,168.13 L658.74,167.57 L659.30,167.00 L659.86,166.44 L660.42,165.87 L660.99,165.31 L661.55,164.74 L662.11,164.18 L662.67,163.61 L663.23,163.05 L663.79,162.48 L664.35,161.92 L664.91,161.36 L665.47,160.80 L666.03,160.23 L666.59,159.67 L667.16,159.11 L667.72,158.55 L668.28,157.99 L668.84,157.44 L669.40,156.88 L669.96,156.32 L670.52,155.77 L671.08,155.22 L671.64,154.66 L672.20,154.11 L672.77,153.56 L673.33,153.01 L673.89,152.47 L674.45,151.92 L675.01,151.38 L675.57,150.83 L676.13,150.29 L676.69,149.75 L677.25,149.22 L677.81,148.68 L678.38,148.15 L678.94,147.62 L679.50,147.09 L680.06,146.56 L680.62,146.03 L681.18,145.51 L681.74,144.99 L682.30,144.47 L682.86,143.95 L683.42,143.43 L683.99,142.92 L684.55,142.41 L685.11,141.90 L685.67,141.40 L686.23,140.89 L686.79,140.39 L687.35,139.90 L687.91,139.40 L688.47,138.91 L689.03,138.42 L689.60,137.93 L690.16,137.45 L690.72,136.96 L691.28,136.49 L691.84,136.01 L692.40,135.54 L692.96,135.07 L693.52,134.60 L694.08,134.14 L694.64,133.68 L695.21,133.22 L695.77,132.76 L696.33,132.31 L696.89,131.87 L697.45,131.42 L698.01,130.98 L698.57,130.54 L699.13,130.11 L699.69,129.68 L700.25,129.25 L700.82,128.83 L701.38,128.41 L701.94,127.99 L702.50,127.58 L703.06,127.17 L703.62,126.76 L704.18,126.36 L704.74,125.96 L705.30,125.57 L705.87,125.18 L706.43,124.79 L706.99,124.41 L707.55,124.03 L708.11,123.65 L708.67,123.28 L709.23,122.92 L709.79,122.55 L710.35,122.20 L710.91,121.84 L711.47,121.49 L712.04,121.14 L712.60,120.80 L713.16,120.46 L713.72,120.13 L714.28,119.80 L714.84,119.48 L715.40,119.16 L715.96,118.84 L716.52,118.53 L717.08,118.22 L717.65,117.92 L718.21,117.62 L718.77,117.32 L719.33,117.03 L719.89,116.75 L720.45,116.47 L721.01,116.19 L721.57,115.92 L722.13,115.65 L722.69,115.39 L723.26,115.13 L723.82,114.88 L724.38,114.63 L724.94,114.39 L725.50,114.15 L726.06,113.91 L726.62,113.69 L727.18,113.46 L727.74,113.24 L728.30,113.03 L728.87,112.82 L729.43,112.61 L729.99,112.41 L730.55,112.21 L731.11,112.02 L731.67,111.84 L732.23,111.66 L732.79,111.48 L733.35,111.31 L733.91,111.14 L734.48,110.98 L735.04,110.82 L735.60,110.67 L736.16,110.53 L736.72,110.38 L737.28,110.25 L737.84,110.12 L738.40,109.99 L738.96,109.87 L739.52,109.75 L740.09,109.64 L740.65,109.53 L741.21,109.43 L741.77,109.34 L742.33,109.25 L742.89,109.16 L743.45,109.08 L744.01,109.00 L744.57,108.93 L745.13,108.87 L745.70,108.81 L746.26,108.75 L746.82,108.70 L747.38,108.66 L747.94,108.62 L748.50,108.58 L749.06,108.55 L749.62,108.53 L750.18,108.51 L750.74,108.50 L751.31,108.49 L751.87,108.48 L752.43,108.48 L752.99,108.49 L753.55,108.50 L754.11,108.52 L754.67,108.54 L755.23,108.57 L755.79,108.60 L756.36,108.64 L756.92,108.68 L757.48,108.73 L758.04,108.78 L758.60,108.84 L759.16,108.90 L759.72,108.97 L760.28,109.04 L760.84,109.12 L761.40,109.20 L761.96,109.29 L762.53,109.38 L763.09,109.48 L763.65,109.58 L764.21,109.69 L764.77,109.80 L765.33,109.92 L765.89,110.04 L766.45,110.17 L767.01,110.30 L767.57,110.44 L768.14,110.59 L768.70,110.73 L769.26,110.89 L769.82,111.04 L770.38,111.21 L770.94,111.37 L771.50,111.55 L772.06,111.72 L772.62,111.91 L773.18,112.09 L773.75,112.28 L774.31,112.48 L774.87,112.68 L775.43,112.89 L775.99,113.10 L776.55,113.31 L777.11,113.53 L777.67,113.76 L778.23,113.99 L778.79,114.22 L779.36,114.46 L779.92,114.70 L780.48,114.95 L781.04,115.20 L781.60,115.46 L782.16,115.72 L782.72,115.99 L783.28,116.26 L783.84,116.53 L784.40,116.81 L784.97,117.10 L785.53,117.38 L786.09,117.68 L786.65,117.97 L787.21,118.28 L787.77,118.58 L788.33,118.89 L788.89,119.20 L789.45,119.52 L790.01,119.84 L790.58,120.17 L791.14,120.50 L791.70,120.84 L792.26,121.18 L792.82,121.52 L793.38,121.86 L793.94,122.22 L794.50,122.57 L795.06,122.93 L795.62,123.29 L796.19,123.66 L796.75,124.03 L797.31,124.40 L797.87,124.78 L798.43,125.16 L798.99,125.55 L799.55,125.94 L800.11,126.33 L800.67,126.72 L801.23,127.12 L801.80,127.53 L802.36,127.93 L802.92,128.34 L803.48,128.76 L804.04,129.18 L804.60,129.60 L805.16,130.02 L805.72,130.45 L806.28,130.88 L806.84,131.31 L807.41,131.75 L807.97,132.19 L808.53,132.63 L809.09,133.08 L809.65,133.53 L810.21,133.98 L810.77,134.43 L811.33,134.89 L811.89,135.35 L812.45,135.82 L813.02,136.28 L813.58,136.75 L814.14,137.22 L814.70,137.70 L815.26,138.18 L815.82,138.66 L816.38,139.14 L816.94,139.62 L817.50,140.11 L818.06,140.60 L818.63,141.09 L819.19,141.59 L819.75,142.09 L820.31,142.58 L820.87,143.09 L821.43,143.59 L821.99,144.10 L822.55,144.60 L823.11,145.11 L823.67,145.62 L824.24,146.14 L824.80,146.65 L825.36,147.17 L825.92,147.69 L826.48,148.21 L827.04,148.73 L827.60,149.26 L828.16,149.78 L828.72,150.31 L829.28,150.84 L829.85,151.37 L830.41,151.90 L830.97,152.44 L831.53,152.97 L832.09,153.51 L832.65,154.04 L833.21,154.58 L833.77,155.12 L834.33,155.66 L834.89,156.20 L835.46,156.74 L836.02,157.29 L836.58,157.83 L837.14,158.38 L837.70,158.92 L838.26,159.47 L838.82,160.01 L839.38,160.56 L839.94,161.11 L840.50,161.66 L841.07,162.21 L841.63,162.75 L842.19,163.30 L842.75,163.85 L843.31,164.40 L843.87,164.95 L844.43,165.50 L844.99,166.05 L845.55,166.60 L846.12,167.15 L846.68,167.70 L847.24,168.25 L847.80,168.80 L848.36,169.35 L848.92,169.89 L849.48,170.44 L850.04,170.99 L850.60,171.53 L851.16,172.08 L851.72,172.62 L852.29,173.17 L852.85,173.71 L853.41,174.25 L853.97,174.79 L854.53,175.33 L855.09,175.87 L855.65,176.41 L856.21,176.94 L856.77,177.47 L857.34,178.01 L857.90,178.54 L858.46,179.07 L859.02,179.60 L859.58,180.12 L860.14,180.64 L860.70,181.17 L861.26,181.69 L861.82,182.20 L862.38,182.72 L862.94,183.23 L863.51,183.74 L864.07,184.25 L864.63,184.76 L865.19,185.26 L865.75,185.76 L866.31,186.26 L866.87,186.75 L867.43,187.24 L867.99,187.73 L868.56,188.21 L869.12,188.69 L869.68,189.17 L870.24,189.64 L870.80,190.11 L871.36,190.58 L871.92,191.04 L872.48,191.49 L873.04,191.95 L873.60,192.40 L874.16,192.84 L874.73,193.28 L875.29,193.71 L875.85,194.14 L876.41,194.56 L876.97,194.98 L877.53,195.39 L878.09,195.80 L878.65,196.20 L879.21,196.59 L879.77,196.98 L880.34,197.36 L880.90,197.74 L881.46,198.10 L882.02,198.46 L882.58,198.82 L883.14,199.16 L883.70,199.50 L884.26,199.83 L884.82,200.14 L885.38,200.45 L885.95,200.76 L886.51,201.05 L887.07,201.33 L887.63,201.60 L888.19,201.86 L888.75,202.11 L889.31,202.35 L889.87,202.58 L890.43,202.79 L890.99,203.00 L891.56,203.19 L892.12,203.37 L892.68,203.53 L893.24,203.68 L893.80,203.82" stroke="#000" stroke-width="2.2" fill="none" stroke-linejoin="round" stroke-linecap="round" stroke-dasharray="0.1,4.2"/>
<path d="M613.30,204.40 L613.86,204.39 L614.42,204.36 L614.98,204.32 L615.54,204.26 L616.10,204.18 L616.67,204.08 L617.23,203.96 L617.79,203.83 L618.35,203.68 L618.91,203.52 L619.47,203.33 L620.03,203.14 L620.59,202.93 L621.15,202.70 L621.71,202.46 L622.28,202.20 L622.84,201.94 L623.40,201.66 L623.96,201.36 L624.52,201.06 L625.08,200.74 L625.64,200.41 L626.20,200.07 L626.76,199.72 L627.32,199.36 L627.89,198.99 L628.45,198.61 L629.01,198.22 L629.57,197.82 L630.13,197.42 L630.69,197.00 L631.25,196.58 L631.81,196.15 L632.37,195.71 L632.93,195.27 L633.50,194.82 L634.06,194.36 L634.62,193.89 L635.18,193.42 L635.74,192.94 L636.30,192.46 L636.86,191.97 L637.42,191.48 L637.98,190.98 L638.54,190.48 L639.11,189.97 L639.67,189.46 L640.23,188.94 L640.79,188.42 L641.35,187.89 L641.91,187.36 L642.47,186.83 L643.03,186.29 L643.59,185.75 L644.15,185.21 L644.72,184.66 L645.28,184.11 L645.84,183.55 L646.40,183.00 L646.96,182.44 L647.52,181.87 L648.08,181.31 L648.64,180.74 L649.20,180.17 L649.76,179.60 L650.33,179.03 L650.89,178.45 L651.45,177.87 L652.01,177.29 L652.57,176.71 L653.13,176.13 L653.69,175.54 L654.25,174.96 L654.81,174.37 L655.38,173.78 L655.94,173.19 L656.50,172.60 L657.06,172.01 L657.62,171.42 L658.18,170.83 L658.74,170.23 L659.30,169.64 L659.86,169.04 L660.42,168.45 L660.99,167.85 L661.55,167.25 L662.11,166.66 L662.67,166.06 L663.23,165.46 L663.79,164.87 L664.35,164.27 L664.91,163.67 L665.47,163.08 L666.03,162.48 L666.59,161.89 L667.16,161.29 L667.72,160.70 L668.28,160.10 L668.84,159.51 L669.40,158.92 L669.96,158.33 L670.52,157.73 L671.08,157.14 L671.64,156.56 L672.20,155.97 L672.77,155.38 L673.33,154.80 L673.89,154.21 L674.45,153.63 L675.01,153.05 L675.57,152.47 L676.13,151.89 L676.69,151.31 L677.25,150.73 L677.81,150.16 L678.38,149.59 L678.94,149.02 L679.50,148.45 L680.06,147.88 L680.62,147.32 L681.18,146.75 L681.74,146.19 L682.30,145.64 L682.86,145.08 L683.42,144.53 L683.99,143.97 L684.55,143.42 L685.11,142.88 L685.67,142.33 L686.23,141.79 L686.79,141.25 L687.35,140.71 L687.91,140.18 L688.47,139.65 L689.03,139.12 L689.60,138.59 L690.16,138.07 L690.72,137.55 L691.28,137.03 L691.84,136.52 L692.40,136.01 L692.96,135.50 L693.52,135.00 L694.08,134.50 L694.64,134.00 L695.21,133.50 L695.77,133.01 L696.33,132.52 L696.89,132.04 L697.45,131.56 L698.01,131.08 L698.57,130.63 L699.13,130.18 L699.69,129.75 L700.25,129.34 L700.82,128.94 L701.38,128.55 L701.94,128.18 L702.50,127.82 L703.06,127.48 L703.62,127.15 L704.18,126.83 L704.74,126.52 L705.30,126.22 L705.87,125.94 L706.43,125.66 L706.99,125.40 L707.55,125.14 L708.11,124.90 L708.67,124.66 L709.23,124.43 L709.79,124.21 L710.35,123.99 L710.91,123.78 L711.47,123.57 L712.04,123.37 L712.60,123.17 L713.16,122.98 L713.72,122.79 L714.28,122.60 L714.84,122.41 L715.40,122.22 L715.96,122.03 L716.52,121.85 L717.08,121.66 L717.65,121.46 L718.21,121.27 L718.77,121.07 L719.33,120.87 L719.89,120.67 L720.45,120.46 L721.01,120.25 L721.57,120.03 L722.13,119.81 L722.69,119.59 L723.26,119.35 L723.82,119.12 L724.38,118.87 L724.94,118.62 L725.50,118.37 L726.06,118.11 L726.62,117.84 L727.18,117.56 L727.74,117.29 L728.30,117.00 L728.87,116.71 L729.43,116.42 L729.99,116.12 L730.55,115.81 L731.11,115.51 L731.67,115.20 L732.23,114.88 L732.79,114.56 L733.35,114.24 L733.91,113.92 L734.48,113.60 L735.04,113.28 L735.60,112.96 L736.16,112.63 L736.72,112.31 L737.28,111.99 L737.84,111.68 L738.40,111.37 L738.96,111.06 L739.52,110.76 L740.09,110.46 L740.65,110.17 L741.21,109.88 L741.77,109.60 L742.33,109.34 L742.89,109.08 L743.45,108.83 L744.01,108.59 L744.57,108.36 L745.13,108.14 L745.70,107.93 L746.26,107.74 L746.82,107.56 L747.38,107.40 L747.94,107.24 L748.50,107.11 L749.06,106.98 L749.62,106.88 L750.18,106.79 L750.74,106.71 L751.31,106.65 L751.87,106.61 L752.43,106.58 L752.99,106.57 L753.55,106.58 L754.11,106.60 L754.67,106.64 L755.23,106.70 L755.79,106.77 L756.36,106.86 L756.92,106.96 L757.48,107.08 L758.04,107.22 L758.60,107.37 L759.16,107.54 L759.72,107.72 L760.28,107.92 L760.84,108.12 L761.40,108.35 L761.96,108.58 L762.53,108.83 L763.09,109.09 L763.65,109.35 L764.21,109.63 L764.77,109.92 L765.33,110.22 L765.89,110.52 L766.45,110.84 L767.01,111.16 L767.57,111.48 L768.14,111.81 L768.70,112.15 L769.26,112.49 L769.82,112.83 L770.38,113.18 L770.94,113.53 L771.50,113.88 L772.06,114.23 L772.62,114.58 L773.18,114.92 L773.75,115.27 L774.31,115.62 L774.87,115.96 L775.43,116.30 L775.99,116.64 L776.55,116.97 L777.11,117.30 L777.67,117.63 L778.23,117.94 L778.79,118.26 L779.36,118.57 L779.92,118.87 L780.48,119.17 L781.04,119.46 L781.60,119.74 L782.16,120.02 L782.72,120.30 L783.28,120.56 L783.84,120.82 L784.40,121.08 L784.97,121.33 L785.53,121.57 L786.09,121.81 L786.65,122.04 L787.21,122.27 L787.77,122.49 L788.33,122.71 L788.89,122.93 L789.45,123.15 L790.01,123.36 L790.58,123.57 L791.14,123.77 L791.70,123.98 L792.26,124.19 L792.82,124.39 L793.38,124.60 L793.94,124.81 L794.50,125.02 L795.06,125.23 L795.62,125.45 L796.19,125.67 L796.75,125.90 L797.31,126.13 L797.87,126.37 L798.43,126.62 L798.99,126.87 L799.55,127.13 L800.11,127.40 L800.67,127.67 L801.23,127.96 L801.80,128.26 L802.36,128.57 L802.92,128.89 L803.48,129.22 L804.04,129.56 L804.60,129.92 L805.16,130.29 L805.72,130.67 L806.28,131.07 L806.84,131.47 L807.41,131.90 L807.97,132.33 L808.53,132.79 L809.09,133.25 L809.65,133.73 L810.21,134.22 L810.77,134.71 L811.33,135.20 L811.89,135.70 L812.45,136.20 L813.02,136.71 L813.58,137.21 L814.14,137.72 L814.70,138.23 L815.26,138.75 L815.82,139.26 L816.38,139.78 L816.94,140.30 L817.50,140.83 L818.06,141.36 L818.63,141.89 L819.19,142.42 L819.75,142.95 L820.31,143.49 L820.87,144.03 L821.43,144.57 L821.99,145.11 L822.55,145.66 L823.11,146.20 L823.67,146.75 L824.24,147.30 L824.80,147.85 L825.36,148.41 L825.92,148.96 L826.48,149.52 L827.04,150.08 L827.60,150.64 L828.16,151.21 L828.72,151.77 L829.28,152.33 L829.85,152.90 L830.41,153.47 L830.97,154.04 L831.53,154.61 L832.09,155.18 L832.65,155.75 L833.21,156.32 L833.77,156.90 L834.33,157.47 L834.89,158.05 L835.46,158.63 L836.02,159.20 L836.58,159.78 L837.14,160.36 L837.70,160.94 L838.26,161.52 L838.82,162.10 L839.38,162.68 L839.94,163.26 L840.50,163.84 L841.07,164.42 L841.63,165.00 L842.19,165.58 L842.75,166.16 L843.31,166.74 L843.87,167.32 L844.43,167.90 L844.99,168.48 L845.55,169.05 L846.12,169.63 L846.68,170.21 L847.24,170.79 L847.80,171.36 L848.36,171.94 L848.92,172.51 L849.48,173.08 L850.04,173.66 L850.60,174.23 L851.16,174.80 L851.72,175.36 L852.29,175.93 L852.85,176.50 L853.41,177.06 L853.97,177.62 L854.53,178.18 L855.09,178.74 L855.65,179.30 L856.21,179.85 L856.77,180.40 L857.34,180.95 L857.90,181.50 L858.46,182.04 L859.02,182.59 L859.58,183.13 L860.14,183.66 L860.70,184.20 L861.26,184.73 L861.82,185.26 L862.38,185.78 L862.94,186.31 L863.51,186.82 L864.07,187.34 L864.63,187.85 L865.19,188.36 L865.75,188.86 L866.31,189.36 L866.87,189.86 L867.43,190.35 L867.99,190.83 L868.56,191.32 L869.12,191.79 L869.68,192.27 L870.24,192.73 L870.80,193.19 L871.36,193.65 L871.92,194.10 L872.48,194.55 L873.04,194.98 L873.60,195.42 L874.16,195.84 L874.73,196.26 L875.29,196.67 L875.85,197.08 L876.41,197.48 L876.97,197.87 L877.53,198.25 L878.09,198.62 L878.65,198.99 L879.21,199.34 L879.77,199.69 L880.34,200.03 L880.90,200.36 L881.46,200.68 L882.02,200.98 L882.58,201.28 L883.14,201.57 L883.70,201.84 L884.26,202.10 L884.82,202.35 L885.38,202.59 L885.95,202.82 L886.51,203.03 L887.07,203.23 L887.63,203.41 L888.19,203.58 L888.75,203.73 L889.31,203.87 L889.87,203.99 L890.43,204.10 L890.99,204.19 L891.56,204.27 L892.12,204.32 L892.68,204.37 L893.24,204.39 L893.80,204.40" stroke="#FF00FF" stroke-width="2.6" fill="none" stroke-linejoin="round" stroke-linecap="round" />
</g>
<rect x="613.3" y="88.4" width="280.8" height="80" fill="none" stroke="#000" stroke-width="1.3"/>
<text x="0" y="0" transform="translate(609.00,173.41) scale(1,1.045)" font-size="14" fill="#000" stroke="#000" stroke-width="0.35" text-anchor="end" font-weight="bold" >15</text>
<text x="0" y="0" transform="translate(609.00,133.41) scale(1,1.045)" font-size="14" fill="#000" stroke="#000" stroke-width="0.35" text-anchor="end" font-weight="bold" >20</text>
<text x="0" y="0" transform="translate(609.00,93.41) scale(1,1.045)" font-size="14" fill="#000" stroke="#000" stroke-width="0.35" text-anchor="end" font-weight="bold" >25</text>
<line x1="613.30" y1="88.40" x2="613.30" y2="90.90" stroke="#000" stroke-width="1" />
<line x1="613.30" y1="168.40" x2="613.30" y2="170.40" stroke="#000" stroke-width="1" />
<line x1="641.35" y1="88.40" x2="641.35" y2="92.40" stroke="#000" stroke-width="1" />
<line x1="641.35" y1="168.40" x2="641.35" y2="171.40" stroke="#000" stroke-width="1" />
<text x="0" y="0" transform="translate(641.35,184.50) scale(1,1.045)" font-size="15" fill="#000" stroke="#000" stroke-width="0.35" text-anchor="middle" font-weight="bold" >0.3</text>
<line x1="669.40" y1="88.40" x2="669.40" y2="90.90" stroke="#000" stroke-width="1" />
<line x1="669.40" y1="168.40" x2="669.40" y2="170.40" stroke="#000" stroke-width="1" />
<line x1="697.45" y1="88.40" x2="697.45" y2="92.40" stroke="#000" stroke-width="1" />
<line x1="697.45" y1="168.40" x2="697.45" y2="171.40" stroke="#000" stroke-width="1" />
<text x="0" y="0" transform="translate(697.45,184.50) scale(1,1.045)" font-size="15" fill="#000" stroke="#000" stroke-width="0.35" text-anchor="middle" font-weight="bold" >0.4</text>
<line x1="725.50" y1="88.40" x2="725.50" y2="90.90" stroke="#000" stroke-width="1" />
<line x1="725.50" y1="168.40" x2="725.50" y2="170.40" stroke="#000" stroke-width="1" />
<line x1="753.55" y1="88.40" x2="753.55" y2="92.40" stroke="#000" stroke-width="1" />
<line x1="753.55" y1="168.40" x2="753.55" y2="171.40" stroke="#000" stroke-width="1" />
<text x="0" y="0" transform="translate(753.55,184.50) scale(1,1.045)" font-size="15" fill="#000" stroke="#000" stroke-width="0.35" text-anchor="middle" font-weight="bold" >0.5</text>
<line x1="781.60" y1="88.40" x2="781.60" y2="90.90" stroke="#000" stroke-width="1" />
<line x1="781.60" y1="168.40" x2="781.60" y2="170.40" stroke="#000" stroke-width="1" />
<line x1="809.65" y1="88.40" x2="809.65" y2="92.40" stroke="#000" stroke-width="1" />
<line x1="809.65" y1="168.40" x2="809.65" y2="171.40" stroke="#000" stroke-width="1" />
<text x="0" y="0" transform="translate(809.65,184.50) scale(1,1.045)" font-size="15" fill="#000" stroke="#000" stroke-width="0.35" text-anchor="middle" font-weight="bold" >0.6</text>
<line x1="837.70" y1="88.40" x2="837.70" y2="90.90" stroke="#000" stroke-width="1" />
<line x1="837.70" y1="168.40" x2="837.70" y2="170.40" stroke="#000" stroke-width="1" />
<line x1="865.75" y1="88.40" x2="865.75" y2="92.40" stroke="#000" stroke-width="1" />
<line x1="865.75" y1="168.40" x2="865.75" y2="171.40" stroke="#000" stroke-width="1" />
<text x="0" y="0" transform="translate(865.75,184.50) scale(1,1.045)" font-size="15" fill="#000" stroke="#000" stroke-width="0.35" text-anchor="middle" font-weight="bold" >0.7</text>
<line x1="893.80" y1="88.40" x2="893.80" y2="90.90" stroke="#000" stroke-width="1" />
<line x1="893.80" y1="168.40" x2="893.80" y2="170.40" stroke="#000" stroke-width="1" />
<line x1="613.30" y1="148.40" x2="617.00" y2="148.40" stroke="#000" stroke-width="1" />
<line x1="894.10" y1="148.40" x2="890.50" y2="148.40" stroke="#000" stroke-width="1" />
<line x1="613.30" y1="128.40" x2="617.00" y2="128.40" stroke="#000" stroke-width="1" />
<line x1="894.10" y1="128.40" x2="890.50" y2="128.40" stroke="#000" stroke-width="1" />
<line x1="613.30" y1="108.40" x2="617.00" y2="108.40" stroke="#000" stroke-width="1" />
<line x1="894.10" y1="108.40" x2="890.50" y2="108.40" stroke="#000" stroke-width="1" />
<text x="0.00" y="0.00" font-size="22" fill="#000" text-anchor="middle" font-weight="bold" transform="translate(592.3,128.4) rotate(-90)">order</text>
<line x1="758.50" y1="210.00" x2="765.80" y2="176.00" stroke="#0000FF" stroke-width="2.8" />
<path d="M768.3,166.5 L769.5,177 L762.5,175.5 Z" fill="#0000FF"/>
<line x1="76.30" y1="349.30" x2="435.90" y2="349.30" stroke="#000" stroke-width="1.5" />
<line x1="76.30" y1="348.55" x2="76.30" y2="623.65" stroke="#000" stroke-width="2" />
<line x1="76.30" y1="622.90" x2="435.90" y2="622.90" stroke="#000" stroke-width="1.5" />
<line x1="435.90" y1="348.55" x2="435.90" y2="623.65" stroke="#000" stroke-width="1.2" />
<line x1="71.30" y1="622.90" x2="76.30" y2="622.90" stroke="#000" stroke-width="1.5" />
<line x1="73.30" y1="605.80" x2="76.30" y2="605.80" stroke="#000" stroke-width="1.5" />
<line x1="71.30" y1="588.70" x2="76.30" y2="588.70" stroke="#000" stroke-width="1.5" />
<line x1="73.30" y1="571.60" x2="76.30" y2="571.60" stroke="#000" stroke-width="1.5" />
<line x1="71.30" y1="554.50" x2="76.30" y2="554.50" stroke="#000" stroke-width="1.5" />
<line x1="73.30" y1="537.40" x2="76.30" y2="537.40" stroke="#000" stroke-width="1.5" />
<line x1="71.30" y1="520.30" x2="76.30" y2="520.30" stroke="#000" stroke-width="1.5" />
<line x1="73.30" y1="503.20" x2="76.30" y2="503.20" stroke="#000" stroke-width="1.5" />
<line x1="71.30" y1="486.10" x2="76.30" y2="486.10" stroke="#000" stroke-width="1.5" />
<line x1="73.30" y1="469.00" x2="76.30" y2="469.00" stroke="#000" stroke-width="1.5" />
<line x1="71.30" y1="451.90" x2="76.30" y2="451.90" stroke="#000" stroke-width="1.5" />
<line x1="73.30" y1="434.80" x2="76.30" y2="434.80" stroke="#000" stroke-width="1.5" />
<line x1="71.30" y1="417.70" x2="76.30" y2="417.70" stroke="#000" stroke-width="1.5" />
<line x1="73.30" y1="400.60" x2="76.30" y2="400.60" stroke="#000" stroke-width="1.5" />
<line x1="71.30" y1="383.50" x2="76.30" y2="383.50" stroke="#000" stroke-width="1.5" />
<line x1="73.30" y1="366.40" x2="76.30" y2="366.40" stroke="#000" stroke-width="1.5" />
<line x1="71.30" y1="349.30" x2="76.30" y2="349.30" stroke="#000" stroke-width="1.5" />
<text x="0" y="0" transform="translate(67.00,630.08) scale(1,1.045)" font-size="22" fill="#000" stroke="#000" stroke-width="0.35" text-anchor="end" font-weight="bold" >0</text>
<text x="0" y="0" transform="translate(67.00,595.88) scale(1,1.045)" font-size="22" fill="#000" stroke="#000" stroke-width="0.35" text-anchor="end" font-weight="bold" >10</text>
<text x="0" y="0" transform="translate(67.00,561.68) scale(1,1.045)" font-size="22" fill="#000" stroke="#000" stroke-width="0.35" text-anchor="end" font-weight="bold" >20</text>
<text x="0" y="0" transform="translate(67.00,527.48) scale(1,1.045)" font-size="22" fill="#000" stroke="#000" stroke-width="0.35" text-anchor="end" font-weight="bold" >30</text>
<text x="0" y="0" transform="translate(67.00,493.28) scale(1,1.045)" font-size="22" fill="#000" stroke="#000" stroke-width="0.35" text-anchor="end" font-weight="bold" >40</text>
<text x="0" y="0" transform="translate(67.00,459.08) scale(1,1.045)" font-size="22" fill="#000" stroke="#000" stroke-width="0.35" text-anchor="end" font-weight="bold" >50</text>
<text x="0" y="0" transform="translate(67.00,424.88) scale(1,1.045)" font-size="22" fill="#000" stroke="#000" stroke-width="0.35" text-anchor="end" font-weight="bold" >60</text>
<text x="0" y="0" transform="translate(67.00,390.68) scale(1,1.045)" font-size="22" fill="#000" stroke="#000" stroke-width="0.35" text-anchor="end" font-weight="bold" >70</text>
<text x="0" y="0" transform="translate(67.00,356.48) scale(1,1.045)" font-size="22" fill="#000" stroke="#000" stroke-width="0.35" text-anchor="end" font-weight="bold" >80</text>
<line x1="76.30" y1="622.90" x2="76.30" y2="627.90" stroke="#000" stroke-width="1.5" />
<text x="0" y="0" transform="translate(76.30,652.90) scale(1,1.045)" font-size="27" fill="#000" stroke="#000" stroke-width="0.35" text-anchor="middle" font-weight="bold" >-2</text>
<line x1="121.25" y1="622.90" x2="121.25" y2="625.90" stroke="#000" stroke-width="1.5" />
<line x1="166.20" y1="622.90" x2="166.20" y2="627.90" stroke="#000" stroke-width="1.5" />
<text x="0" y="0" transform="translate(166.20,652.90) scale(1,1.045)" font-size="27" fill="#000" stroke="#000" stroke-width="0.35" text-anchor="middle" font-weight="bold" >-1</text>
<line x1="211.15" y1="622.90" x2="211.15" y2="625.90" stroke="#000" stroke-width="1.5" />
<line x1="256.10" y1="622.90" x2="256.10" y2="627.90" stroke="#000" stroke-width="1.5" />
<text x="0" y="0" transform="translate(256.10,652.90) scale(1,1.045)" font-size="27" fill="#000" stroke="#000" stroke-width="0.35" text-anchor="middle" font-weight="bold" >0</text>
<line x1="301.05" y1="622.90" x2="301.05" y2="625.90" stroke="#000" stroke-width="1.5" />
<line x1="346.00" y1="622.90" x2="346.00" y2="627.90" stroke="#000" stroke-width="1.5" />
<text x="0" y="0" transform="translate(346.00,652.90) scale(1,1.045)" font-size="27" fill="#000" stroke="#000" stroke-width="0.35" text-anchor="middle" font-weight="bold" >1</text>
<line x1="390.95" y1="622.90" x2="390.95" y2="625.90" stroke="#000" stroke-width="1.5" />
<line x1="435.90" y1="622.90" x2="435.90" y2="627.90" stroke="#000" stroke-width="1.5" />
<text x="0" y="0" transform="translate(435.90,652.90) scale(1,1.045)" font-size="27" fill="#000" stroke="#000" stroke-width="0.35" text-anchor="middle" font-weight="bold" >2</text>
<text x="0" y="0" transform="translate(255.00,676.00) scale(1,1.045)" font-size="27" fill="#000" stroke="#000" stroke-width="0.35" text-anchor="middle" font-weight="bold" >t (o.c.)</text>
<text x="0.00" y="0.00" font-size="33.0" fill="#000" text-anchor="middle" font-weight="bold" transform="translate(36.5,486.7) rotate(-90)">Harmonic order</text>
<text x="83.50" y="401.00" font-size="49.5" fill="#fff" text-anchor="start" font-weight="normal" >(c)</text>
<line x1="573.70" y1="349.30" x2="933.30" y2="349.30" stroke="#000" stroke-width="1.5" />
<line x1="573.70" y1="348.55" x2="573.70" y2="623.65" stroke="#000" stroke-width="2" />
<line x1="573.70" y1="622.90" x2="933.30" y2="622.90" stroke="#000" stroke-width="1.5" />
<line x1="933.30" y1="348.55" x2="933.30" y2="623.65" stroke="#000" stroke-width="1.2" />
<line x1="568.70" y1="622.90" x2="573.70" y2="622.90" stroke="#000" stroke-width="1.5" />
<line x1="570.70" y1="605.80" x2="573.70" y2="605.80" stroke="#000" stroke-width="1.5" />
<line x1="568.70" y1="588.70" x2="573.70" y2="588.70" stroke="#000" stroke-width="1.5" />
<line x1="570.70" y1="571.60" x2="573.70" y2="571.60" stroke="#000" stroke-width="1.5" />
<line x1="568.70" y1="554.50" x2="573.70" y2="554.50" stroke="#000" stroke-width="1.5" />
<line x1="570.70" y1="537.40" x2="573.70" y2="537.40" stroke="#000" stroke-width="1.5" />
<line x1="568.70" y1="520.30" x2="573.70" y2="520.30" stroke="#000" stroke-width="1.5" />
<line x1="570.70" y1="503.20" x2="573.70" y2="503.20" stroke="#000" stroke-width="1.5" />
<line x1="568.70" y1="486.10" x2="573.70" y2="486.10" stroke="#000" stroke-width="1.5" />
<line x1="570.70" y1="469.00" x2="573.70" y2="469.00" stroke="#000" stroke-width="1.5" />
<line x1="568.70" y1="451.90" x2="573.70" y2="451.90" stroke="#000" stroke-width="1.5" />
<line x1="570.70" y1="434.80" x2="573.70" y2="434.80" stroke="#000" stroke-width="1.5" />
<line x1="568.70" y1="417.70" x2="573.70" y2="417.70" stroke="#000" stroke-width="1.5" />
<line x1="570.70" y1="400.60" x2="573.70" y2="400.60" stroke="#000" stroke-width="1.5" />
<line x1="568.70" y1="383.50" x2="573.70" y2="383.50" stroke="#000" stroke-width="1.5" />
<line x1="570.70" y1="366.40" x2="573.70" y2="366.40" stroke="#000" stroke-width="1.5" />
<line x1="568.70" y1="349.30" x2="573.70" y2="349.30" stroke="#000" stroke-width="1.5" />
<text x="0" y="0" transform="translate(564.00,630.08) scale(1,1.045)" font-size="22" fill="#000" stroke="#000" stroke-width="0.35" text-anchor="end" font-weight="bold" >0</text>
<text x="0" y="0" transform="translate(564.00,595.88) scale(1,1.045)" font-size="22" fill="#000" stroke="#000" stroke-width="0.35" text-anchor="end" font-weight="bold" >10</text>
<text x="0" y="0" transform="translate(564.00,561.68) scale(1,1.045)" font-size="22" fill="#000" stroke="#000" stroke-width="0.35" text-anchor="end" font-weight="bold" >20</text>
<text x="0" y="0" transform="translate(564.00,527.48) scale(1,1.045)" font-size="22" fill="#000" stroke="#000" stroke-width="0.35" text-anchor="end" font-weight="bold" >30</text>
<text x="0" y="0" transform="translate(564.00,493.28) scale(1,1.045)" font-size="22" fill="#000" stroke="#000" stroke-width="0.35" text-anchor="end" font-weight="bold" >40</text>
<text x="0" y="0" transform="translate(564.00,459.08) scale(1,1.045)" font-size="22" fill="#000" stroke="#000" stroke-width="0.35" text-anchor="end" font-weight="bold" >50</text>
<text x="0" y="0" transform="translate(564.00,424.88) scale(1,1.045)" font-size="22" fill="#000" stroke="#000" stroke-width="0.35" text-anchor="end" font-weight="bold" >60</text>
<text x="0" y="0" transform="translate(564.00,390.68) scale(1,1.045)" font-size="22" fill="#000" stroke="#000" stroke-width="0.35" text-anchor="end" font-weight="bold" >70</text>
<text x="0" y="0" transform="translate(564.00,356.48) scale(1,1.045)" font-size="22" fill="#000" stroke="#000" stroke-width="0.35" text-anchor="end" font-weight="bold" >80</text>
<line x1="573.70" y1="622.90" x2="573.70" y2="627.90" stroke="#000" stroke-width="1.5" />
<text x="0" y="0" transform="translate(573.70,652.90) scale(1,1.045)" font-size="27" fill="#000" stroke="#000" stroke-width="0.35" text-anchor="middle" font-weight="bold" >-2</text>
<line x1="618.65" y1="622.90" x2="618.65" y2="625.90" stroke="#000" stroke-width="1.5" />
<line x1="663.60" y1="622.90" x2="663.60" y2="627.90" stroke="#000" stroke-width="1.5" />
<text x="0" y="0" transform="translate(663.60,652.90) scale(1,1.045)" font-size="27" fill="#000" stroke="#000" stroke-width="0.35" text-anchor="middle" font-weight="bold" >-1</text>
<line x1="708.55" y1="622.90" x2="708.55" y2="625.90" stroke="#000" stroke-width="1.5" />
<line x1="753.50" y1="622.90" x2="753.50" y2="627.90" stroke="#000" stroke-width="1.5" />
<text x="0" y="0" transform="translate(753.50,652.90) scale(1,1.045)" font-size="27" fill="#000" stroke="#000" stroke-width="0.35" text-anchor="middle" font-weight="bold" >0</text>
<line x1="798.45" y1="622.90" x2="798.45" y2="625.90" stroke="#000" stroke-width="1.5" />
<line x1="843.40" y1="622.90" x2="843.40" y2="627.90" stroke="#000" stroke-width="1.5" />
<text x="0" y="0" transform="translate(843.40,652.90) scale(1,1.045)" font-size="27" fill="#000" stroke="#000" stroke-width="0.35" text-anchor="middle" font-weight="bold" >1</text>
<line x1="888.35" y1="622.90" x2="888.35" y2="625.90" stroke="#000" stroke-width="1.5" />
<line x1="933.30" y1="622.90" x2="933.30" y2="627.90" stroke="#000" stroke-width="1.5" />
<text x="0" y="0" transform="translate(933.30,652.90) scale(1,1.045)" font-size="27" fill="#000" stroke="#000" stroke-width="0.35" text-anchor="middle" font-weight="bold" >2</text>
<text x="0" y="0" transform="translate(752.00,676.00) scale(1,1.045)" font-size="27" fill="#000" stroke="#000" stroke-width="0.35" text-anchor="middle" font-weight="bold" >t (o.c.)</text>
<text x="0.00" y="0.00" font-size="33.0" fill="#000" text-anchor="middle" font-weight="bold" transform="translate(532,486.7) rotate(-90)">Harmonic order</text>
<text x="579.50" y="401.00" font-size="49.5" fill="#fff" text-anchor="start" font-weight="normal" >(d)</text>
<rect x="936.5" y="528.79" width="56" height="1.91" fill="rgb(0,0,140)"/><rect x="936.5" y="525.56" width="56" height="3.53" fill="rgb(7,16,144)"/><rect x="936.5" y="522.34" width="56" height="3.53" fill="rgb(14,31,147)"/><rect x="936.5" y="519.11" width="56" height="3.53" fill="rgb(22,48,152)"/><rect x="936.5" y="515.89" width="56" height="3.53" fill="rgb(32,66,161)"/><rect x="936.5" y="512.66" width="56" height="3.52" fill="rgb(42,85,170)"/><rect x="936.5" y="509.44" width="56" height="3.53" fill="rgb(51,102,179)"/><rect x="936.5" y="506.21" width="56" height="3.53" fill="rgb(60,116,188)"/><rect x="936.5" y="502.99" width="56" height="3.53" fill="rgb(69,130,197)"/><rect x="936.5" y="499.76" width="56" height="3.52" fill="rgb(76,145,205)"/><rect x="936.5" y="496.54" width="56" height="3.53" fill="rgb(83,161,214)"/><rect x="936.5" y="493.31" width="56" height="3.52" fill="rgb(91,177,222)"/><rect x="936.5" y="490.09" width="56" height="3.53" fill="rgb(98,195,230)"/><rect x="936.5" y="486.86" width="56" height="3.52" fill="rgb(105,213,237)"/><rect x="936.5" y="483.64" width="56" height="3.53" fill="rgb(112,232,244)"/><rect x="936.5" y="480.41" width="56" height="3.53" fill="rgb(113,255,251)"/><rect x="936.5" y="477.19" width="56" height="3.52" fill="rgb(114,255,242)"/><rect x="936.5" y="473.96" width="56" height="3.53" fill="rgb(116,255,232)"/><rect x="936.5" y="470.74" width="56" height="3.52" fill="rgb(117,255,223)"/><rect x="936.5" y="467.51" width="56" height="3.53" fill="rgb(119,255,214)"/><rect x="936.5" y="464.29" width="56" height="3.52" fill="rgb(121,255,205)"/><rect x="936.5" y="461.06" width="56" height="3.53" fill="rgb(122,255,196)"/><rect x="936.5" y="457.84" width="56" height="3.53" fill="rgb(123,255,187)"/><rect x="936.5" y="454.61" width="56" height="3.53" fill="rgb(125,255,179)"/><rect x="936.5" y="451.39" width="56" height="3.52" fill="rgb(126,255,170)"/><rect x="936.5" y="448.16" width="56" height="3.52" fill="rgb(128,255,162)"/><rect x="936.5" y="444.94" width="56" height="3.53" fill="rgb(128,255,146)"/><rect x="936.5" y="441.71" width="56" height="3.53" fill="rgb(128,255,129)"/><rect x="936.5" y="438.49" width="56" height="3.53" fill="rgb(128,255,112)"/><rect x="936.5" y="435.26" width="56" height="3.52" fill="rgb(138,255,112)"/><rect x="936.5" y="432.04" width="56" height="3.52" fill="rgb(148,255,112)"/><rect x="936.5" y="428.81" width="56" height="3.53" fill="rgb(158,255,112)"/><rect x="936.5" y="425.59" width="56" height="3.53" fill="rgb(168,255,112)"/><rect x="936.5" y="422.36" width="56" height="3.52" fill="rgb(178,255,112)"/><rect x="936.5" y="419.14" width="56" height="3.53" fill="rgb(188,255,112)"/><rect x="936.5" y="415.91" width="56" height="3.52" fill="rgb(198,255,112)"/><rect x="936.5" y="412.69" width="56" height="3.53" fill="rgb(208,255,112)"/><rect x="936.5" y="409.46" width="56" height="3.53" fill="rgb(218,255,112)"/><rect x="936.5" y="406.24" width="56" height="3.52" fill="rgb(228,255,112)"/><rect x="936.5" y="403.01" width="56" height="3.53" fill="rgb(238,255,112)"/><rect x="936.5" y="399.79" width="56" height="3.52" fill="rgb(247,255,112)"/><rect x="936.5" y="396.56" width="56" height="3.53" fill="rgb(253,252,111)"/><rect x="936.5" y="393.34" width="56" height="3.53" fill="rgb(240,226,107)"/><rect x="936.5" y="390.11" width="56" height="3.52" fill="rgb(228,204,99)"/><rect x="936.5" y="386.89" width="56" height="3.53" fill="rgb(219,186,89)"/><rect x="936.5" y="383.66" width="56" height="3.52" fill="rgb(210,168,78)"/><rect x="936.5" y="380.44" width="56" height="3.53" fill="rgb(200,148,70)"/><rect x="936.5" y="377.21" width="56" height="3.53" fill="rgb(190,128,61)"/><rect x="936.5" y="373.99" width="56" height="3.52" fill="rgb(181,109,53)"/><rect x="936.5" y="370.76" width="56" height="3.53" fill="rgb(172,90,44)"/><rect x="936.5" y="367.54" width="56" height="3.52" fill="rgb(163,71,35)"/><rect x="936.5" y="364.31" width="56" height="3.53" fill="rgb(155,55,27)"/><rect x="936.5" y="361.09" width="56" height="3.53" fill="rgb(147,41,18)"/><rect x="936.5" y="357.86" width="56" height="3.52" fill="rgb(140,27,10)"/><rect x="936.5" y="354.64" width="56" height="3.53" fill="rgb(135,17,6)"/><rect x="936.5" y="351.41" width="56" height="3.52" fill="rgb(132,9,3)"/><rect x="936.5" y="349.80" width="56" height="1.91" fill="rgb(128,0,0)"/>
<rect x="936.5" y="349.8" width="56" height="180.6" fill="none" stroke="#000" stroke-width="1.5"/>
<line x1="992.70" y1="352.80" x2="997.50" y2="352.80" stroke="#000" stroke-width="1.2" />
<text x="0" y="0" transform="translate(1006.00,360.68) scale(1,1.045)" font-size="22" fill="#000" stroke="#000" stroke-width="0.35" text-anchor="start" font-weight="bold" >0</text>
<line x1="992.70" y1="396.45" x2="997.50" y2="396.45" stroke="#000" stroke-width="1.2" />
<text x="0" y="0" transform="translate(1006.00,404.33) scale(1,1.045)" font-size="22" fill="#000" stroke="#000" stroke-width="0.35" text-anchor="start" font-weight="bold" >-1</text>
<line x1="992.70" y1="440.10" x2="997.50" y2="440.10" stroke="#000" stroke-width="1.2" />
<text x="0" y="0" transform="translate(1006.00,447.98) scale(1,1.045)" font-size="22" fill="#000" stroke="#000" stroke-width="0.35" text-anchor="start" font-weight="bold" >-3</text>
<line x1="992.70" y1="483.75" x2="997.50" y2="483.75" stroke="#000" stroke-width="1.2" />
<text x="0" y="0" transform="translate(1006.00,491.63) scale(1,1.045)" font-size="22" fill="#000" stroke="#000" stroke-width="0.35" text-anchor="start" font-weight="bold" >-4</text>
<line x1="992.70" y1="527.40" x2="997.50" y2="527.40" stroke="#000" stroke-width="1.2" />
<text x="0" y="0" transform="translate(1006.00,535.28) scale(1,1.045)" font-size="22" fill="#000" stroke="#000" stroke-width="0.35" text-anchor="start" font-weight="bold" >-5</text>
<text x="0" y="0" transform="translate(907.00,337.00) scale(1,1.045)" font-size="19.5" fill="#000" stroke="#000" stroke-width="0.35" text-anchor="start" font-weight="bold" >Log<tspan font-size="13" dy="5">10</tspan><tspan dy="-5">[Yield]</tspan></text>
</svg></div>
<script>(function(){
var STOPS=[[0,0,0,140],[0.05,20,44,150],[0.1,48,96,176],[0.15,72,136,200],[0.2,92,180,224],[0.25,112,232,244],[0.26,112,255,255],
[0.35,120,255,208],[0.45,128,255,160],[0.5,128,255,112],[0.6,184,255,112],[0.7,240,255,112],[0.73,255,255,112],[0.76,232,212,104],
[0.8,212,172,80],[0.85,184,116,56],[0.9,160,64,32],[0.95,138,24,8],[1.0,128,0,0]];
var NL=56;
function cmap(v){
  if(v<0)v=0; if(v>1)v=1;
  v=Math.round(v*NL)/NL;
  for(var i=1;i<STOPS.length;i++){ if(v<=STOPS[i][0]){var a=STOPS[i-1],b=STOPS[i],f=(v-a[0])/(b[0]-a[0]);
    return [a[1]+(b[1]-a[1])*f,a[2]+(b[2]-a[2])*f,a[3]+(b[3]-a[3])*f];}}
  return [128,0,0];
}
function smax(vals,k){var m=-1e9,i;for(i=0;i<vals.length;i++)if(vals[i]>m)m=vals[i];var s=0;for(i=0;i<vals.length;i++)s+=Math.exp((vals[i]-m)/k);return m+k*Math.log(s);}
function plumeVal(p,t,H){
  // p: [c0, slant, Htop, a, w0, Hbase]
  var Hb=p[5]||6; var pen=(H<Hb)?Math.pow((Hb-H)/6,2):0; if(pen>3) return -5;
  var frac=(H-10)/(p[2]-10); var cx=(p[8]===undefined)?1.0:p[8]; var center=p[3]*(1-Math.pow(Math.max(frac,0),cx));
  if(H<10) center=p[3];
  var c=p[0]+p[1]*(H-10);
  var sh=(p[6]===undefined)?0.5:p[6];
  var w=p[4]*(1-sh*Math.max(0,Math.min(1,frac)));
  var asym=(p[9]===undefined)?1:p[9];
  var dx=t-c; var x=(dx>0)?dx/(w/asym):(-dx)/(w*asym);
  var ex=(p[7]===undefined)?2:p[7];
  return center-Math.pow(x,ex)-pen;
}
function blobVal(b,t,H){ var dx=(t-b[0])/b[3], dy=(H-b[1])/b[4]; return b[2]*Math.exp(-(dx*dx+dy*dy)); }
function draw(id,P,B,bottom,extra){
  var cv=document.getElementById(id); if(!cv) return;
  var ctx=cv.getContext('2d'); var Wc=cv.width,Hc=cv.height;
  var img=ctx.createImageData(Wc,Hc), d=img.data;
  var x0=parseFloat(cv.dataset.x0), y0=parseFloat(cv.dataset.y0), tz=parseFloat(cv.dataset.tz);
  for(var j=0;j<Hc;j++){
    var y=y0+j+0.5, H=(622.9-y)/3.42;
    for(var i=0;i<Wc;i++){
      var x=x0+i+0.5, t=(x-tz)/89.9, k=(j*Wc+i)*4;
      if(H<3){d[k]=255;d[k+1]=255;d[k+2]=255;d[k+3]=255;continue;}
      var vals=[];
      for(var q=0;q<P.length;q++) vals.push(plumeVal(P[q],t,H));
      vals.push(bottom(t,H));
      var v=smax(vals,0.06);
      for(var q=0;q<B.length;q++) v+=blobVal(B[q],t,H);
      if(extra) v=extra(v,t,H);
      var c=cmap(v);
      d[k]=c[0];d[k+1]=c[1];d[k+2]=c[2];d[k+3]=255;
    }
  }
  ctx.putImageData(img,0,0);
}
function blurL(L,W,H,r,passes){
  var tmp=new Float32Array(W*H);
  for(var p=0;p<passes;p++){
    for(var j=0;j<H;j++){ for(var i=0;i<W;i++){ var s=0,n=0; for(var k=-r;k<=r;k++){var ii=i+k; if(ii<0)ii=0; if(ii>=W)ii=W-1; s+=L[j*W+ii]; n++;} tmp[j*W+i]=s/n; } }
    for(var j=0;j<H;j++){ for(var i=0;i<W;i++){ var s=0,n=0; for(var k=-r;k<=r;k++){var jj=j+k; if(jj<0)jj=0; if(jj>=H)jj=H-1; s+=tmp[jj*W+i]; n++;} L[j*W+i]=s/n; } }
  }
}
function render(id,fieldFn,r,passes){
  var cv=document.getElementById(id); if(!cv) return;
  var ctx=cv.getContext('2d'); var Wc=cv.width,Hc=cv.height;
  var img=ctx.createImageData(Wc,Hc), d=img.data;
  var x0=parseFloat(cv.dataset.x0), y0=parseFloat(cv.dataset.y0), tz=parseFloat(cv.dataset.tz);
  var L=new Float32Array(Wc*Hc);
  for(var j=0;j<Hc;j++){ var y=y0+j+0.5, H=(622.9-y)/3.42;
    for(var i=0;i<Wc;i++){ var x=x0+i+0.5, t=(x-tz)/89.9; var v=fieldFn(t,Math.max(H,3.0)); if(v>1.15)v=1.15; if(v<-0.3)v=-0.3; L[j*Wc+i]=v; } }
  if(r>0) blurL(L,Wc,Hc,r,passes);
  for(var j=0;j<Hc;j++){ var y=y0+j+0.5, H=(622.9-y)/3.42;
    for(var i=0;i<Wc;i++){ var k=(j*Wc+i)*4; var c=(H<3)?[255,255,255]:cmap(L[j*Wc+i]);
      d[k]=c[0];d[k+1]=c[1];d[k+2]=c[2];d[k+3]=255; } }
  ctx.putImageData(img,0,0);
}
function fieldC(P,B,bottom,extra){
  return function(t,H){ var vals=[]; for(var q=0;q<P.length;q++) vals.push(plumeVal(P[q],t,H)); vals.push(bottom(t,H));
    var v=smax(vals,0.06); for(var q=0;q<B.length;q++) v+=blobVal(B[q],t,H); if(extra) v=extra(v,t,H); return v; };
}
window.__heat={draw:draw,cmap:cmap,smax:smax,render:render,fieldC:fieldC};
})();
(function(){
var h=window.__heat;
// ---- panel c ----  [c0, slant, Htop, a, w0, Hbase, shrink, exp, cexp, asym]
var Pc=[
 [-1.44,-0.001,36,0.36,0.18,6,0.8,2,1,1.2],
 [-1.30,0.0,28,0.46,0.34,6,0.5,2,1,1.2],
 [-1.06,0.0022,55,0.62,0.36,6,0.82,2,1.2,1.4],
 [-0.86,0.0032,76,0.17,0.12,20,0.3,2,3],
 [-0.56,0.0017,68,0.76,0.28,6,0.85,2,1.2,1.3],
 [-0.17,0.0012,104,0.91,0.34,6,0.85,2,1.0,1.3],
 [0.25,0,30,0.70,1.45,6,0.2,4,1.6,1],
 [-0.84,0,27,0.58,0.2,6,0.6,2,1.8,1],
 [0.18,0.003,107,0.95,0.40,6,0.82,2,1.0,1.3],
 [0.64,0.0030,107,0.95,0.40,6,0.82,2,1.0,1.3],
 [0.52,0.002,95,0.20,0.12,30,0.2,2,4],
 [0.08,0.001,95,0.17,0.11,40,0.2,2,4],
 [1.05,0.001,60,0.74,0.34,6,0.55,2,1.4,1.2],
 [1.12,0.0,88,0.18,0.11,40,0.2,2,4],
 [1.30,0.0,58,0.72,0.28,6,0.6,2,1.3,1.2],
 [1.25,0.0,72,0.24,0.12,30,0.2,2,3],
 [1.54,0.0,55,0.68,0.26,6,0.6,2,1.3,1.2],
 [1.66,0.0,82,0.2,0.1,56,0.2,2,4],
 [1.92,0.0,43,0.62,0.26,6,0.6,2,1.3,1.2],
 [1.88,0.0,60,0.18,0.1,30,0.2,2,3]
];
var Bc=[
 [0.25,13.2,0.22,0.07,3.0],
 [0.79,13.6,0.22,0.07,3.0],
 [-0.21,13.2,0.08,0.07,3],
 [-0.72,13.5,0.16,0.07,3],
 [1.25,14.5,0.14,0.08,3],
 [1.69,13.5,0.16,0.08,3],
 [-1.0,12.5,-0.9,0.03,3.5],
 [-1.12,20,-0.5,0.025,3],
 [-1.24,10,-0.55,0.025,2],
 [1.87,6.4,-0.7,0.035,1.3]
];
function bottomC(t,H){
  var Hb=4.0+1.1*Math.exp(-Math.pow((t-0.3)/1.0,2));
  if(H<Hb) return 1.02;
  var D=2.2+3.0/(1+Math.exp(-(t+1.3)/0.1));
  return 1.0-(H-Hb)/D;
}
h.render('hc',h.fieldC(Pc,Bc,bottomC,null),1,2);
})();
(function(){
var h=window.__heat;
function pl(P,t){ if(t<=P[0][0]) return P[0].slice(1); for(var i=1;i<P.length;i++){ if(t<=P[i][0]){var a=P[i-1],b=P[i],f=(t-a[0])/(b[0]-a[0]); var r=[]; for(var j=1;j<a.length;j++) r.push(a[j]+(b[j]-a[j])*f); return r;}} return P[P.length-1].slice(1); }
// mountain: t, Hr, D
var MT=[[-2.0,14.5,18],[-1.86,13.2,6.8],[-1.53,26.3,21],[-1.31,20,7.5],[-1.05,31,30],[-0.83,23,12],[-0.55,37,28],[-0.35,27.5,12],
 [-0.04,45,22],[0.12,34,10],[0.25,42,22],[0.46,46,22],[0.63,31,9],[0.75,42,22],[0.88,33,10],[1.08,45,22],[1.2,33,10],[1.35,38,16],[1.5,29,12],[1.65,23,14],[2.0,14,14]];
// background upper: t, level
var BG=[[-2,-2],[-1.25,-2],[-1.22,0.1],[-1.14,0.1],[-1.12,0.2],[-1.0,0.24],[-0.95,0.18],[-0.84,0.26],[-0.79,0.55],[-0.65,0.6],[-0.6,0.7],[-0.55,0.62],[-0.4,0.55],[-0.32,0.45],[-0.28,0.62],
 [0.0,0.66],[0.5,0.66],[1.0,0.64],[1.4,0.62],[1.5,0.58],[1.6,0.55],[1.7,0.5],[1.8,0.47],[1.9,0.44],[2.0,0.42]];
// streaks: t at Hlo, t at Hhi, Hlo, Hhi, sigma_t, amp(absolute L)
var ST=[[0.20,0.35,34,76,0.12,0.95],[0.70,0.81,34,70,0.11,0.92],[1.24,1.30,38,68,0.10,0.9],[-0.24,-0.12,42,80,0.11,0.93],
 [0.47,0.53,36,54,0.10,0.96],[1.01,1.06,36,52,0.10,0.94]];
// bottom band: t, depth, Hc, hw
var BB=[[-2,0.65,6,2.4],[-1.1,0.62,6,2.3],[-1.0,0.45,5.9,1.6],[-0.5,0.45,5.9,1.6],[-0.42,0.0,5.5,1.5],[-0.25,0.0,5.5,1.5],[-0.2,0.3,5.5,1.3],[-0.04,0.3,5.5,1.3],
 [0.0,0.15,5.8,0.8],[0.12,0.15,5.8,0.8],[0.16,0.0,6,1],[0.3,0.0,6,1.4],[0.38,0.45,6,1.6],[0.54,0.55,6,1.7],[0.75,0.35,6,1.5],[0.8,0.0,5.5,1],[0.98,0.05,5,1],
 [1.02,0.3,4.6,0.9],[1.25,0.3,4.6,0.9],[1.3,0.45,6,2.0],[1.6,0.5,6,2.3],[2.0,0.6,6,2.4]];
// teardrops (negative)
var TD=[[-1.70,14.5],[-1.62,20],[-1.52,17],[-1.40,17.6],[-1.24,16.3],[-1.11,21.3],[-1.10,17.6],[-0.98,17.6],[-0.91,22.5],[-0.68,19.4],[-0.57,20.4],[-0.55,18.2],[-0.51,27.5],[-0.12,26.3],
 [0.06,18.5],[0.17,17.6],[0.21,22.5],[0.35,20],[0.41,26.3],[0.41,16.6],[0.54,20.4],[0.54,17.9],[0.62,27.5],[0.69,20],[0.80,20],[0.80,12.9],[0.94,23.8],[0.94,17.6],
 [1.03,27.8],[1.09,16],[1.16,26],[1.24,17.9],[1.28,18.8],[1.39,14.5],[1.43,20],[1.44,25],[1.56,18.8],[1.57,14.5],[1.70,21.9],[1.74,15.7],[1.90,15.7]];
function field(t,H){
  var m=pl(MT,t); var Lm=1+(m[0]-H)/m[1];
  var b=pl(BG,t)[0];
  // bg reduces slightly toward the top for the cyan column
  var Lb=b; if(t>1.55){var cl=function(x){return Math.max(0,Math.min(1,x));}; Lb=b+0.04*Math.sin(t*60)-0.32*cl((H-58)/18)*cl((t-1.6)/0.05)-0.3*Math.exp(-Math.pow((t-1.885)/0.014,2))*cl((H-38)/12)-0.25*Math.exp(-Math.pow((t-1.66)/0.014,2))*cl((H-58)/10)-0.3*Math.exp(-Math.pow((t-1.78)/0.012,2)-Math.pow((H-35)/3,2));} if(b<0.3&&t<-0.8&&b>0.15){Lb=b+0.06*Math.sin(t*140);} if(b>0.45&&t<=1.55){Lb=b+0.045*Math.sin(t*52+1.3)+0.035*Math.sin(t*31+0.4)-0.05*Math.max(0,H-45)/35;}
  if(H<45 && b<0.3 && b>0) Lb=b; 
  var Ls=-2;
  for(var i=0;i<ST.length;i++){var s=ST[i]; var f=(H-s[2])/(s[3]-s[2]); var c=s[0]+(s[1]-s[0])*f; var g=2*f-1;
    var sg=s[4]*Math.sqrt(Math.max(0.05,1-0.6*g*g));
    var v=s[5]-Math.pow((t-c)/sg,2)*0.2-0.32*g*g; if(v>Ls)Ls=v;}
  var L=h.smax([Lm,Lb,Ls],0.04);
  if(L>1)L=1;
  var bb=pl(BB,t); L-=bb[0]*Math.exp(-Math.pow((H-bb[1])/bb[2],2));
  for(var i=0;i<TD.length;i++){var d=TD[i]; var dx=(t-d[0])/0.016, dy=(H-d[1])/1.9; var e=dx*dx+dy*dy; if(e<9) L-=0.6*Math.exp(-e);}
  return L;
}
h.render('hd',field,1,2);
})();
</script>
</body></html>
